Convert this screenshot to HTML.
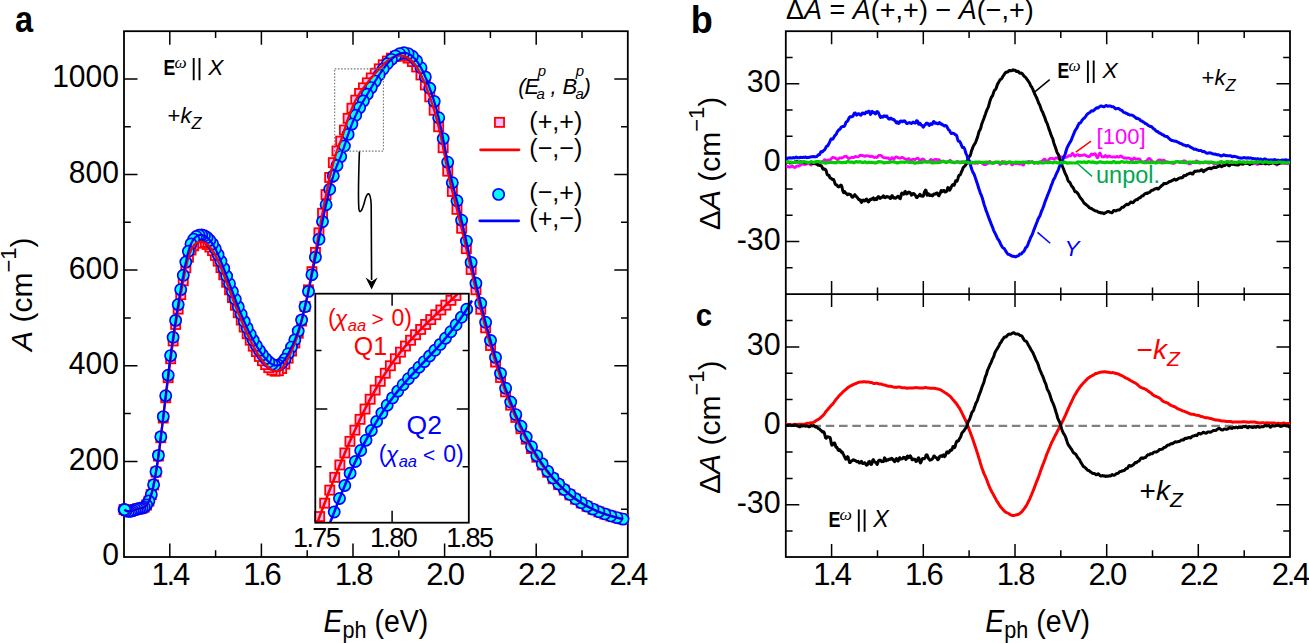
<!DOCTYPE html>
<html><head><meta charset="utf-8"><title>Figure</title>
<style>html,body{margin:0;padding:0;background:#fff;overflow:hidden}svg{display:block}</style>
</head><body>
<svg width="1309" height="643" viewBox="0 0 1309 643" font-family="Liberation Sans, sans-serif">
<rect width="1309" height="643" fill="#fff"/>
<rect x="124.0" y="31.2" width="503.8" height="525.8" fill="none" stroke="#000" stroke-width="1.8"/>
<path d="M169.8 557.0v-13.5 M169.8 31.2v13.5 M261.4 557.0v-13.5 M261.4 31.2v13.5 M353.0 557.0v-13.5 M353.0 31.2v13.5 M444.6 557.0v-13.5 M444.6 31.2v13.5 M536.2 557.0v-13.5 M536.2 31.2v13.5 M215.6 557.0v-6.8 M215.6 31.2v6.8 M307.2 557.0v-6.8 M307.2 31.2v6.8 M398.8 557.0v-6.8 M398.8 31.2v6.8 M490.4 557.0v-6.8 M490.4 31.2v6.8 M582.0 557.0v-6.8 M582.0 31.2v6.8 M124.0 461.4h13.5 M627.8 461.4h-13.5 M124.0 365.8h13.5 M627.8 365.8h-13.5 M124.0 270.1h13.5 M627.8 270.1h-13.5 M124.0 174.5h13.5 M627.8 174.5h-13.5 M124.0 78.9h13.5 M627.8 78.9h-13.5 M124.0 509.2h6.8 M627.8 509.2h-6.8 M124.0 413.6h6.8 M627.8 413.6h-6.8 M124.0 317.9h6.8 M627.8 317.9h-6.8 M124.0 222.3h6.8 M627.8 222.3h-6.8 M124.0 126.7h6.8 M627.8 126.7h-6.8" stroke="#000" stroke-width="1.5" fill="none"/>
<g>
<g fill="#ffbfff" stroke="#ff0000" stroke-width="1.8"><rect x="618.4" y="514.5" width="9.1" height="9.1"/><rect x="612.3" y="513.1" width="9.1" height="9.1"/><rect x="606.2" y="511.4" width="9.1" height="9.1"/><rect x="600.2" y="509.5" width="9.1" height="9.1"/><rect x="594.3" y="507.3" width="9.1" height="9.1"/><rect x="588.4" y="504.7" width="9.1" height="9.1"/><rect x="582.5" y="501.8" width="9.1" height="9.1"/><rect x="576.7" y="498.4" width="9.1" height="9.1"/><rect x="571.0" y="494.6" width="9.1" height="9.1"/><rect x="565.3" y="490.3" width="9.1" height="9.1"/><rect x="559.7" y="485.5" width="9.1" height="9.1"/><rect x="554.1" y="480.1" width="9.1" height="9.1"/><rect x="548.6" y="474.2" width="9.1" height="9.1"/><rect x="543.1" y="467.7" width="9.1" height="9.1"/><rect x="537.7" y="460.5" width="9.1" height="9.1"/><rect x="532.3" y="452.7" width="9.1" height="9.1"/><rect x="527.0" y="444.0" width="9.1" height="9.1"/><rect x="521.7" y="434.6" width="9.1" height="9.1"/><rect x="516.4" y="424.2" width="9.1" height="9.1"/><rect x="511.3" y="412.9" width="9.1" height="9.1"/><rect x="506.1" y="400.6" width="9.1" height="9.1"/><rect x="501.0" y="387.3" width="9.1" height="9.1"/><rect x="496.0" y="372.9" width="9.1" height="9.1"/><rect x="491.0" y="357.5" width="9.1" height="9.1"/><rect x="486.0" y="340.9" width="9.1" height="9.1"/><rect x="481.1" y="323.3" width="9.1" height="9.1"/><rect x="476.2" y="304.7" width="9.1" height="9.1"/><rect x="471.4" y="285.2" width="9.1" height="9.1"/><rect x="466.6" y="264.9" width="9.1" height="9.1"/><rect x="461.8" y="244.1" width="9.1" height="9.1"/><rect x="457.1" y="223.7" width="9.1" height="9.1"/><rect x="452.4" y="204.8" width="9.1" height="9.1"/><rect x="447.8" y="186.9" width="9.1" height="9.1"/><rect x="443.2" y="166.6" width="9.1" height="9.1"/><rect x="438.6" y="143.2" width="9.1" height="9.1"/><rect x="434.1" y="122.2" width="9.1" height="9.1"/><rect x="429.6" y="105.7" width="9.1" height="9.1"/><rect x="425.2" y="92.3" width="9.1" height="9.1"/><rect x="420.8" y="80.4" width="9.1" height="9.1"/><rect x="416.4" y="70.4" width="9.1" height="9.1"/><rect x="412.1" y="62.4" width="9.1" height="9.1"/><rect x="407.8" y="57.0" width="9.1" height="9.1"/><rect x="403.5" y="53.5" width="9.1" height="9.1"/><rect x="399.3" y="51.6" width="9.1" height="9.1"/><rect x="395.1" y="51.0" width="9.1" height="9.1"/><rect x="391.0" y="51.7" width="9.1" height="9.1"/><rect x="386.8" y="53.6" width="9.1" height="9.1"/><rect x="382.8" y="56.5" width="9.1" height="9.1"/><rect x="378.7" y="60.2" width="9.1" height="9.1"/><rect x="374.7" y="64.3" width="9.1" height="9.1"/><rect x="370.7" y="68.7" width="9.1" height="9.1"/><rect x="366.7" y="73.4" width="9.1" height="9.1"/><rect x="362.8" y="78.3" width="9.1" height="9.1"/><rect x="358.9" y="83.3" width="9.1" height="9.1"/><rect x="355.0" y="88.9" width="9.1" height="9.1"/><rect x="351.2" y="95.6" width="9.1" height="9.1"/><rect x="347.4" y="103.7" width="9.1" height="9.1"/><rect x="343.6" y="113.8" width="9.1" height="9.1"/><rect x="339.9" y="125.5" width="9.1" height="9.1"/><rect x="336.1" y="136.6" width="9.1" height="9.1"/><rect x="332.4" y="146.4" width="9.1" height="9.1"/><rect x="328.8" y="158.1" width="9.1" height="9.1"/><rect x="325.1" y="172.9" width="9.1" height="9.1"/><rect x="321.5" y="190.0" width="9.1" height="9.1"/><rect x="318.0" y="208.7" width="9.1" height="9.1"/><rect x="314.4" y="228.3" width="9.1" height="9.1"/><rect x="310.9" y="247.9" width="9.1" height="9.1"/><rect x="307.4" y="267.1" width="9.1" height="9.1"/><rect x="303.9" y="285.3" width="9.1" height="9.1"/><rect x="300.5" y="301.9" width="9.1" height="9.1"/><rect x="297.1" y="316.5" width="9.1" height="9.1"/><rect x="293.7" y="328.7" width="9.1" height="9.1"/><rect x="290.3" y="338.4" width="9.1" height="9.1"/><rect x="287.0" y="346.5" width="9.1" height="9.1"/><rect x="283.6" y="353.6" width="9.1" height="9.1"/><rect x="280.3" y="359.6" width="9.1" height="9.1"/><rect x="277.1" y="364.0" width="9.1" height="9.1"/><rect x="273.8" y="366.2" width="9.1" height="9.1"/><rect x="270.6" y="366.6" width="9.1" height="9.1"/><rect x="267.4" y="365.5" width="9.1" height="9.1"/><rect x="264.2" y="363.1" width="9.1" height="9.1"/><rect x="261.1" y="360.0" width="9.1" height="9.1"/><rect x="257.9" y="356.2" width="9.1" height="9.1"/><rect x="254.8" y="351.9" width="9.1" height="9.1"/><rect x="251.8" y="347.0" width="9.1" height="9.1"/><rect x="248.7" y="341.6" width="9.1" height="9.1"/><rect x="245.7" y="335.6" width="9.1" height="9.1"/><rect x="242.6" y="329.2" width="9.1" height="9.1"/><rect x="239.6" y="322.5" width="9.1" height="9.1"/><rect x="236.7" y="315.5" width="9.1" height="9.1"/><rect x="233.7" y="308.2" width="9.1" height="9.1"/><rect x="230.8" y="300.7" width="9.1" height="9.1"/><rect x="227.9" y="293.1" width="9.1" height="9.1"/><rect x="225.0" y="285.3" width="9.1" height="9.1"/><rect x="222.1" y="277.7" width="9.1" height="9.1"/><rect x="219.2" y="270.2" width="9.1" height="9.1"/><rect x="216.4" y="263.1" width="9.1" height="9.1"/><rect x="213.6" y="256.6" width="9.1" height="9.1"/><rect x="210.8" y="250.9" width="9.1" height="9.1"/><rect x="208.0" y="246.1" width="9.1" height="9.1"/><rect x="205.3" y="242.5" width="9.1" height="9.1"/><rect x="202.5" y="239.9" width="9.1" height="9.1"/><rect x="199.8" y="238.2" width="9.1" height="9.1"/><rect x="197.1" y="237.4" width="9.1" height="9.1"/><rect x="194.4" y="237.5" width="9.1" height="9.1"/><rect x="191.8" y="238.6" width="9.1" height="9.1"/><rect x="189.1" y="241.2" width="9.1" height="9.1"/><rect x="186.5" y="245.5" width="9.1" height="9.1"/><rect x="183.9" y="252.7" width="9.1" height="9.1"/><rect x="181.3" y="263.3" width="9.1" height="9.1"/><rect x="178.7" y="276.2" width="9.1" height="9.1"/><rect x="176.2" y="290.1" width="9.1" height="9.1"/><rect x="173.6" y="304.6" width="9.1" height="9.1"/><rect x="171.1" y="319.9" width="9.1" height="9.1"/><rect x="168.6" y="336.4" width="9.1" height="9.1"/><rect x="166.1" y="354.2" width="9.1" height="9.1"/><rect x="163.6" y="373.2" width="9.1" height="9.1"/><rect x="161.2" y="393.2" width="9.1" height="9.1"/><rect x="158.7" y="413.5" width="9.1" height="9.1"/><rect x="156.3" y="433.2" width="9.1" height="9.1"/><rect x="153.9" y="451.5" width="9.1" height="9.1"/><rect x="151.5" y="467.5" width="9.1" height="9.1"/><rect x="149.1" y="480.4" width="9.1" height="9.1"/><rect x="146.7" y="490.0" width="9.1" height="9.1"/><rect x="144.4" y="496.5" width="9.1" height="9.1"/><rect x="142.0" y="500.5" width="9.1" height="9.1"/><rect x="139.7" y="502.6" width="9.1" height="9.1"/><rect x="137.4" y="503.6" width="9.1" height="9.1"/><rect x="135.1" y="503.9" width="9.1" height="9.1"/><rect x="132.9" y="504.3" width="9.1" height="9.1"/><rect x="130.6" y="505.1" width="9.1" height="9.1"/><rect x="128.4" y="506.0" width="9.1" height="9.1"/><rect x="126.1" y="506.7" width="9.1" height="9.1"/><rect x="123.9" y="506.9" width="9.1" height="9.1"/><rect x="121.7" y="506.2" width="9.1" height="9.1"/><rect x="119.5" y="505.0" width="9.1" height="9.1"/><rect x="120.1" y="505.1" width="9.1" height="9.1"/></g>
<g fill="#00ffff" stroke="#0000ff" stroke-width="1.7"><circle cx="623.0" cy="519.1" r="5.6"/><circle cx="616.9" cy="517.6" r="5.6"/><circle cx="610.8" cy="515.9" r="5.6"/><circle cx="604.8" cy="513.9" r="5.6"/><circle cx="598.8" cy="511.7" r="5.6"/><circle cx="592.9" cy="509.1" r="5.6"/><circle cx="587.1" cy="506.1" r="5.6"/><circle cx="581.3" cy="502.7" r="5.6"/><circle cx="575.6" cy="498.8" r="5.6"/><circle cx="569.9" cy="494.4" r="5.6"/><circle cx="564.2" cy="489.5" r="5.6"/><circle cx="558.7" cy="484.0" r="5.6"/><circle cx="553.1" cy="477.9" r="5.6"/><circle cx="547.7" cy="471.2" r="5.6"/><circle cx="542.2" cy="463.8" r="5.6"/><circle cx="536.8" cy="455.7" r="5.6"/><circle cx="531.5" cy="446.7" r="5.6"/><circle cx="526.2" cy="437.0" r="5.6"/><circle cx="521.0" cy="426.3" r="5.6"/><circle cx="515.8" cy="414.6" r="5.6"/><circle cx="510.7" cy="402.0" r="5.6"/><circle cx="505.6" cy="388.2" r="5.6"/><circle cx="500.5" cy="373.4" r="5.6"/><circle cx="495.5" cy="357.4" r="5.6"/><circle cx="490.5" cy="340.4" r="5.6"/><circle cx="485.6" cy="322.3" r="5.6"/><circle cx="480.7" cy="303.3" r="5.6"/><circle cx="475.9" cy="283.3" r="5.6"/><circle cx="471.1" cy="262.4" r="5.6"/><circle cx="466.4" cy="241.1" r="5.6"/><circle cx="461.6" cy="220.2" r="5.6"/><circle cx="457.0" cy="200.8" r="5.6"/><circle cx="452.3" cy="182.7" r="5.6"/><circle cx="447.7" cy="162.2" r="5.6"/><circle cx="443.2" cy="138.6" r="5.6"/><circle cx="438.7" cy="117.7" r="5.6"/><circle cx="434.2" cy="101.4" r="5.6"/><circle cx="429.8" cy="88.3" r="5.6"/><circle cx="425.3" cy="76.9" r="5.6"/><circle cx="421.0" cy="67.7" r="5.6"/><circle cx="416.6" cy="60.8" r="5.6"/><circle cx="412.4" cy="56.2" r="5.6"/><circle cx="408.1" cy="53.6" r="5.6"/><circle cx="403.9" cy="52.8" r="5.6"/><circle cx="399.7" cy="53.7" r="5.6"/><circle cx="395.5" cy="55.9" r="5.6"/><circle cx="391.4" cy="59.4" r="5.6"/><circle cx="387.3" cy="63.8" r="5.6"/><circle cx="383.2" cy="69.0" r="5.6"/><circle cx="379.2" cy="74.9" r="5.6"/><circle cx="375.2" cy="81.1" r="5.6"/><circle cx="371.3" cy="87.6" r="5.6"/><circle cx="367.3" cy="94.2" r="5.6"/><circle cx="363.4" cy="100.9" r="5.6"/><circle cx="359.6" cy="107.7" r="5.6"/><circle cx="355.7" cy="115.3" r="5.6"/><circle cx="351.9" cy="124.1" r="5.6"/><circle cx="348.1" cy="134.4" r="5.6"/><circle cx="344.4" cy="146.0" r="5.6"/><circle cx="340.7" cy="156.6" r="5.6"/><circle cx="337.0" cy="165.5" r="5.6"/><circle cx="333.3" cy="175.9" r="5.6"/><circle cx="329.7" cy="189.3" r="5.6"/><circle cx="326.1" cy="204.7" r="5.6"/><circle cx="322.5" cy="221.6" r="5.6"/><circle cx="319.0" cy="239.3" r="5.6"/><circle cx="315.4" cy="257.2" r="5.6"/><circle cx="311.9" cy="274.7" r="5.6"/><circle cx="308.5" cy="291.4" r="5.6"/><circle cx="305.0" cy="306.6" r="5.6"/><circle cx="301.6" cy="320.0" r="5.6"/><circle cx="298.2" cy="331.1" r="5.6"/><circle cx="294.8" cy="339.9" r="5.6"/><circle cx="291.5" cy="347.1" r="5.6"/><circle cx="288.2" cy="353.7" r="5.6"/><circle cx="284.9" cy="359.3" r="5.6"/><circle cx="281.6" cy="363.3" r="5.6"/><circle cx="278.4" cy="365.3" r="5.6"/><circle cx="275.2" cy="365.5" r="5.6"/><circle cx="272.0" cy="364.2" r="5.6"/><circle cx="268.8" cy="361.8" r="5.6"/><circle cx="265.6" cy="358.6" r="5.6"/><circle cx="262.5" cy="354.8" r="5.6"/><circle cx="259.4" cy="350.4" r="5.6"/><circle cx="256.3" cy="345.5" r="5.6"/><circle cx="253.2" cy="340.1" r="5.6"/><circle cx="250.2" cy="334.2" r="5.6"/><circle cx="247.2" cy="327.9" r="5.6"/><circle cx="244.2" cy="321.3" r="5.6"/><circle cx="241.2" cy="314.2" r="5.6"/><circle cx="238.3" cy="306.8" r="5.6"/><circle cx="235.3" cy="299.2" r="5.6"/><circle cx="232.4" cy="291.5" r="5.6"/><circle cx="229.5" cy="283.7" r="5.6"/><circle cx="226.6" cy="276.0" r="5.6"/><circle cx="223.8" cy="268.4" r="5.6"/><circle cx="221.0" cy="261.3" r="5.6"/><circle cx="218.1" cy="254.6" r="5.6"/><circle cx="215.3" cy="248.8" r="5.6"/><circle cx="212.6" cy="243.9" r="5.6"/><circle cx="209.8" cy="240.2" r="5.6"/><circle cx="207.1" cy="237.5" r="5.6"/><circle cx="204.4" cy="235.8" r="5.6"/><circle cx="201.7" cy="235.0" r="5.6"/><circle cx="199.0" cy="235.2" r="5.6"/><circle cx="196.3" cy="236.5" r="5.6"/><circle cx="193.7" cy="239.3" r="5.6"/><circle cx="191.0" cy="243.9" r="5.6"/><circle cx="188.4" cy="251.3" r="5.6"/><circle cx="185.8" cy="262.1" r="5.6"/><circle cx="183.3" cy="275.3" r="5.6"/><circle cx="180.7" cy="289.6" r="5.6"/><circle cx="178.2" cy="304.6" r="5.6"/><circle cx="175.6" cy="320.4" r="5.6"/><circle cx="173.1" cy="337.3" r="5.6"/><circle cx="170.6" cy="355.6" r="5.6"/><circle cx="168.2" cy="375.2" r="5.6"/><circle cx="165.7" cy="395.7" r="5.6"/><circle cx="163.3" cy="416.6" r="5.6"/><circle cx="160.8" cy="436.8" r="5.6"/><circle cx="158.4" cy="455.4" r="5.6"/><circle cx="156.0" cy="471.7" r="5.6"/><circle cx="153.6" cy="484.8" r="5.6"/><circle cx="151.3" cy="494.5" r="5.6"/><circle cx="148.9" cy="501.0" r="5.6"/><circle cx="146.6" cy="505.0" r="5.6"/><circle cx="144.3" cy="507.2" r="5.6"/><circle cx="142.0" cy="508.1" r="5.6"/><circle cx="139.7" cy="508.4" r="5.6"/><circle cx="137.4" cy="508.9" r="5.6"/><circle cx="135.1" cy="509.6" r="5.6"/><circle cx="132.9" cy="510.5" r="5.6"/><circle cx="130.7" cy="511.2" r="5.6"/><circle cx="128.4" cy="511.4" r="5.6"/><circle cx="126.2" cy="510.8" r="5.6"/><circle cx="124.1" cy="509.5" r="5.6"/><circle cx="124.7" cy="509.7" r="5.6"/></g>
<polyline points="124.5,509.5 125.1,510.1 125.7,510.5 126.4,510.9 127.0,511.1 127.6,511.3 128.2,511.4 128.9,511.5 129.5,511.4 130.1,511.4 130.7,511.3 131.4,511.1 132.0,510.9 132.6,510.7 133.2,510.5 133.9,510.2 134.5,509.9 135.1,509.7 135.7,509.5 136.4,509.2 137.0,509.0 137.6,508.8 138.2,508.7 138.9,508.6 139.5,508.5 140.1,508.4 140.7,508.3 141.4,508.2 142.0,508.1 142.6,507.9 143.2,507.7 143.8,507.4 144.5,507.1 145.1,506.6 145.7,506.1 146.3,505.4 147.0,504.6 147.6,503.6 148.2,502.5 148.8,501.3 149.5,499.8 150.1,498.2 150.7,496.4 151.3,494.3 152.0,492.1 152.6,489.6 153.2,486.9 153.8,484.0 154.5,480.9 155.1,477.5 155.7,474.0 156.3,470.2 157.0,466.2 157.6,462.0 158.2,457.6 158.8,453.1 159.5,448.5 160.1,443.7 160.7,438.8 161.3,433.9 161.9,428.8 162.6,423.7 163.2,418.6 163.8,413.4 164.4,408.2 165.1,403.0 165.7,397.8 166.3,392.7 166.9,387.6 167.6,382.5 168.2,377.6 168.8,372.7 169.4,367.8 170.1,363.1 170.7,358.4 171.3,353.8 171.9,349.3 172.6,344.9 173.2,340.5 173.8,336.3 174.4,332.2 175.1,328.1 175.7,324.2 176.3,320.3 176.9,316.5 177.6,312.7 178.2,309.1 178.8,305.4 179.4,301.8 180.0,298.3 180.7,294.8 181.3,291.3 181.9,287.9 182.5,284.5 183.2,281.2 183.8,277.9 184.4,274.7 185.0,271.6 185.7,268.6 186.3,265.7 186.9,263.0 187.5,260.5 188.2,258.2 188.8,256.0 189.4,254.1 190.0,252.4 190.7,250.9 191.3,249.6 191.9,248.4 192.5,247.3 193.2,246.4 193.8,245.6 194.4,244.9 195.0,244.2 195.7,243.7 196.3,243.2 196.9,242.8 197.5,242.5 198.2,242.3 198.8,242.1 199.4,241.9 200.0,241.9 200.6,241.9 201.3,241.9 201.9,242.0 202.5,242.1 203.1,242.3 203.8,242.5 204.4,242.8 205.0,243.1 205.6,243.4 206.3,243.8 206.9,244.3 207.5,244.7 208.1,245.3 208.8,245.9 209.4,246.5 210.0,247.2 210.6,248.0 211.3,248.8 211.9,249.6 212.5,250.5 213.1,251.5 213.8,252.6 214.4,253.6 215.0,254.8 215.6,255.9 216.3,257.2 216.9,258.4 217.5,259.8 218.1,261.1 218.7,262.5 219.4,263.9 220.0,265.4 220.6,266.8 221.2,268.4 221.9,269.9 222.5,271.5 223.1,273.0 223.7,274.6 224.4,276.2 225.0,277.9 225.6,279.5 226.2,281.2 226.9,282.8 227.5,284.5 228.1,286.1 228.7,287.8 229.4,289.5 230.0,291.1 230.6,292.8 231.2,294.5 231.9,296.1 232.5,297.8 233.1,299.5 233.7,301.1 234.4,302.7 235.0,304.4 235.6,306.0 236.2,307.6 236.8,309.2 237.5,310.8 238.1,312.4 238.7,313.9 239.3,315.5 240.0,317.0 240.6,318.5 241.2,320.0 241.8,321.5 242.5,323.0 243.1,324.5 243.7,325.9 244.3,327.4 245.0,328.8 245.6,330.2 246.2,331.6 246.8,333.0 247.5,334.4 248.1,335.7 248.7,337.1 249.3,338.4 250.0,339.7 250.6,340.9 251.2,342.2 251.8,343.4 252.5,344.6 253.1,345.8 253.7,347.0 254.3,348.1 254.9,349.2 255.6,350.3 256.2,351.4 256.8,352.4 257.4,353.4 258.1,354.4 258.7,355.4 259.3,356.3 259.9,357.2 260.6,358.1 261.2,359.0 261.8,359.8 262.4,360.7 263.1,361.5 263.7,362.3 264.3,363.0 264.9,363.7 265.6,364.4 266.2,365.1 266.8,365.8 267.4,366.4 268.1,367.0 268.7,367.6 269.3,368.2 269.9,368.7 270.6,369.1 271.2,369.6 271.8,369.9 272.4,370.3 273.0,370.6 273.7,370.8 274.3,371.0 274.9,371.1 275.5,371.2 276.2,371.2 276.8,371.2 277.4,371.1 278.0,370.9 278.7,370.7 279.3,370.4 279.9,370.0 280.5,369.5 281.2,369.0 281.8,368.4 282.4,367.7 283.0,366.9 283.7,366.1 284.3,365.1 284.9,364.2 285.5,363.1 286.2,362.0 286.8,360.9 287.4,359.7 288.0,358.5 288.7,357.2 289.3,355.9 289.9,354.6 290.5,353.2 291.1,351.8 291.8,350.4 292.4,349.0 293.0,347.5 293.6,346.0 294.3,344.5 294.9,342.9 295.5,341.2 296.1,339.5 296.8,337.7 297.4,335.9 298.0,333.9 298.6,331.9 299.3,329.8 299.9,327.6 300.5,325.3 301.1,322.9 301.8,320.5 302.4,317.9 303.0,315.3 303.6,312.7 304.3,309.9 304.9,307.1 305.5,304.2 306.1,301.3 306.8,298.3 307.4,295.3 308.0,292.2 308.6,289.0 309.2,285.8 309.9,282.6 310.5,279.3 311.1,276.0 311.7,272.7 312.4,269.3 313.0,265.9 313.6,262.5 314.2,259.1 314.9,255.6 315.5,252.2 316.1,248.7 316.7,245.2 317.4,241.7 318.0,238.2 318.6,234.8 319.2,231.3 319.9,227.8 320.5,224.3 321.1,220.9 321.7,217.5 322.4,214.1 323.0,210.7 323.6,207.4 324.2,204.1 324.9,200.9 325.5,197.7 326.1,194.5 326.7,191.4 327.4,188.4 328.0,185.4 328.6,182.5 329.2,179.6 329.8,176.8 330.5,174.1 331.1,171.4 331.7,168.8 332.3,166.4 333.0,164.0 333.6,161.7 334.2,159.5 334.8,157.4 335.5,155.4 336.1,153.5 336.7,151.8 337.3,150.0 338.0,148.4 338.6,146.7 339.2,145.1 339.8,143.5 340.5,141.8 341.1,140.1 341.7,138.3 342.3,136.5 343.0,134.6 343.6,132.6 344.2,130.7 344.8,128.7 345.5,126.7 346.1,124.8 346.7,122.8 347.3,120.9 347.9,119.0 348.6,117.1 349.2,115.4 349.8,113.6 350.4,112.0 351.1,110.4 351.7,108.8 352.3,107.4 352.9,105.9 353.6,104.6 354.2,103.2 354.8,101.9 355.4,100.7 356.1,99.5 356.7,98.4 357.3,97.2 357.9,96.1 358.6,95.1 359.2,94.1 359.8,93.1 360.4,92.1 361.1,91.2 361.7,90.3 362.3,89.4 362.9,88.5 363.6,87.7 364.2,86.9 364.8,86.0 365.4,85.2 366.0,84.4 366.7,83.6 367.3,82.9 367.9,82.1 368.5,81.3 369.2,80.5 369.8,79.7 370.4,79.0 371.0,78.2 371.7,77.4 372.3,76.7 372.9,76.0 373.5,75.2 374.2,74.5 374.8,73.8 375.4,73.0 376.0,72.3 376.7,71.6 377.3,70.9 377.9,70.3 378.5,69.6 379.2,68.9 379.8,68.2 380.4,67.6 381.0,66.9 381.7,66.3 382.3,65.7 382.9,65.0 383.5,64.4 384.1,63.8 384.8,63.3 385.4,62.7 386.0,62.1 386.6,61.6 387.3,61.1 387.9,60.6 388.5,60.1 389.1,59.7 389.8,59.2 390.4,58.8 391.0,58.4 391.6,58.0 392.3,57.7 392.9,57.4 393.5,57.1 394.1,56.8 394.8,56.5 395.4,56.3 396.0,56.1 396.6,56.0 397.3,55.8 397.9,55.7 398.5,55.6 399.1,55.6 399.8,55.5 400.4,55.5 401.0,55.6 401.6,55.6 402.2,55.7 402.9,55.9 403.5,56.0 404.1,56.2 404.7,56.4 405.4,56.7 406.0,56.9 406.6,57.2 407.2,57.6 407.9,57.9 408.5,58.3 409.1,58.7 409.7,59.2 410.4,59.7 411.0,60.2 411.6,60.8 412.2,61.4 412.9,62.0 413.5,62.7 414.1,63.5 414.7,64.2 415.4,65.1 416.0,66.0 416.6,66.9 417.2,67.9 417.9,69.0 418.5,70.1 419.1,71.2 419.7,72.4 420.3,73.6 421.0,74.9 421.6,76.2 422.2,77.6 422.8,79.0 423.5,80.4 424.1,81.9 424.7,83.4 425.3,84.9 426.0,86.5 426.6,88.2 427.2,89.8 427.8,91.5 428.5,93.2 429.1,94.9 429.7,96.7 430.3,98.5 431.0,100.3 431.6,102.1 432.2,104.0 432.8,105.9 433.5,107.9 434.1,109.9 434.7,112.0 435.3,114.1 436.0,116.3 436.6,118.6 437.2,120.9 437.8,123.4 438.5,125.9 439.1,128.4 439.7,131.1 440.3,133.9 440.9,136.7 441.6,139.7 442.2,142.7 442.8,145.8 443.4,149.0 444.1,152.2 444.7,155.5 445.3,158.8 445.9,162.0 446.6,165.2 447.2,168.4 447.8,171.5 448.4,174.6 449.1,177.5 449.7,180.3 450.3,183.1 450.9,185.7 451.6,188.3 452.2,190.9 452.8,193.3 453.4,195.8 454.1,198.2 454.7,200.6 455.3,203.0 455.9,205.4 456.6,207.7 457.2,210.1 457.8,212.6 458.4,215.0 459.0,217.5 459.7,220.1 460.3,222.6 460.9,225.2 461.5,227.9 462.2,230.5 462.8,233.2 463.4,235.8 464.0,238.5 464.7,241.3 465.3,244.0 465.9,246.7 466.5,249.5 467.2,252.2 467.8,255.0 468.4,257.7 469.0,260.4 469.7,263.2 470.3,265.9 470.9,268.6 471.5,271.3 472.2,274.0 472.8,276.6 473.4,279.3 474.0,281.9 474.7,284.6 475.3,287.2 475.9,289.7 476.5,292.3 477.1,294.9 477.8,297.4 478.4,299.9 479.0,302.4 479.6,304.9 480.3,307.4 480.9,309.8 481.5,312.3 482.1,314.7 482.8,317.1 483.4,319.5 484.0,321.8 484.6,324.2 485.3,326.5 485.9,328.8 486.5,331.1 487.1,333.4 487.8,335.7 488.4,337.9 489.0,340.1 489.6,342.3 490.3,344.5 490.9,346.6 491.5,348.8 492.1,350.9 492.8,353.0 493.4,355.1 494.0,357.1 494.6,359.2 495.2,361.2 495.9,363.2 496.5,365.2 497.1,367.2 497.7,369.1 498.4,371.0 499.0,372.9 499.6,374.8 500.2,376.7 500.9,378.5 501.5,380.4 502.1,382.2 502.7,384.0 503.4,385.7 504.0,387.5 504.6,389.2 505.2,391.0 505.9,392.7 506.5,394.4 507.1,396.0 507.7,397.7 508.4,399.3 509.0,400.9 509.6,402.5 510.2,404.1 510.9,405.7 511.5,407.2 512.1,408.7 512.7,410.3 513.3,411.8 514.0,413.2 514.6,414.7 515.2,416.1 515.8,417.6 516.5,419.0 517.1,420.4 517.7,421.8 518.3,423.1 519.0,424.5 519.6,425.8 520.2,427.2 520.8,428.5 521.5,429.7 522.1,431.0 522.7,432.3 523.3,433.5 524.0,434.8 524.6,436.0 525.2,437.2 525.8,438.4 526.5,439.6 527.1,440.7 527.7,441.9 528.3,443.0 529.0,444.1 529.6,445.2 530.2,446.3 530.8,447.4 531.4,448.5 532.1,449.5 532.7,450.6 533.3,451.6 533.9,452.6 534.6,453.6 535.2,454.6 535.8,455.6 536.4,456.6 537.1,457.6 537.7,458.5 538.3,459.5 538.9,460.4 539.6,461.3 540.2,462.2 540.8,463.1 541.4,464.0 542.1,464.9 542.7,465.7 543.3,466.6 543.9,467.4 544.6,468.3 545.2,469.1 545.8,469.9 546.4,470.7 547.1,471.5 547.7,472.3 548.3,473.0 548.9,473.8 549.5,474.5 550.2,475.3 550.8,476.0 551.4,476.8 552.0,477.5 552.7,478.2 553.3,478.9 553.9,479.6 554.5,480.3 555.2,481.0 555.8,481.6 556.4,482.3 557.0,483.0 557.7,483.6 558.3,484.3 558.9,484.9 559.5,485.5 560.2,486.2 560.8,486.8 561.4,487.4 562.0,488.0 562.7,488.6 563.3,489.1 563.9,489.7 564.5,490.3 565.2,490.9 565.8,491.4 566.4,492.0 567.0,492.5 567.7,493.0 568.3,493.5 568.9,494.1 569.5,494.6 570.1,495.1 570.8,495.6 571.4,496.1 572.0,496.5 572.6,497.0 573.3,497.5 573.9,498.0 574.5,498.4 575.1,498.9 575.8,499.3 576.4,499.7 577.0,500.2 577.6,500.6 578.3,501.0 578.9,501.4 579.5,501.8 580.1,502.2 580.8,502.6 581.4,503.0 582.0,503.4 582.6,503.8 583.3,504.2 583.9,504.5 584.5,504.9 585.1,505.2 585.8,505.6 586.4,505.9 587.0,506.3 587.6,506.6 588.2,506.9 588.9,507.3 589.5,507.6 590.1,507.9 590.7,508.2 591.4,508.5 592.0,508.8 592.6,509.1 593.2,509.4 593.9,509.7 594.5,510.0 595.1,510.3 595.7,510.5 596.4,510.8 597.0,511.1 597.6,511.3 598.2,511.6 598.9,511.8 599.5,512.1 600.1,512.3 600.7,512.6 601.4,512.8 602.0,513.0 602.6,513.3 603.2,513.5 603.9,513.7 604.5,513.9 605.1,514.1 605.7,514.4 606.3,514.6 607.0,514.8 607.6,515.0 608.2,515.2 608.8,515.4 609.5,515.6 610.1,515.7 610.7,515.9 611.3,516.1 612.0,516.3 612.6,516.5 613.2,516.6 613.8,516.8 614.5,517.0 615.1,517.2 615.7,517.3 616.3,517.5 617.0,517.6 617.6,517.8 618.2,518.0 618.8,518.1 619.5,518.3 620.1,518.4 620.7,518.6 621.3,518.7 622.0,518.8 622.6,519.0 623.2,519.1" fill="none" stroke="#ff0000" stroke-width="2.4" stroke-linejoin="round"/>
<polyline points="124.5,509.5 125.1,510.1 125.7,510.5 126.4,510.8 127.0,511.1 127.6,511.3 128.2,511.4 128.9,511.4 129.5,511.4 130.1,511.3 130.7,511.2 131.4,511.1 132.0,510.9 132.6,510.7 133.2,510.4 133.9,510.2 134.5,509.9 135.1,509.7 135.7,509.4 136.4,509.2 137.0,509.0 137.6,508.8 138.2,508.7 138.9,508.5 139.5,508.5 140.1,508.4 140.7,508.3 141.4,508.2 142.0,508.1 142.6,507.9 143.2,507.7 143.8,507.4 144.5,507.0 145.1,506.6 145.7,506.0 146.3,505.4 147.0,504.5 147.6,503.6 148.2,502.5 148.8,501.2 149.5,499.8 150.1,498.2 150.7,496.3 151.3,494.3 152.0,492.0 152.6,489.5 153.2,486.8 153.8,483.9 154.5,480.7 155.1,477.3 155.7,473.7 156.3,469.8 157.0,465.7 157.6,461.5 158.2,457.0 158.8,452.4 159.5,447.7 160.1,442.8 160.7,437.8 161.3,432.8 161.9,427.6 162.6,422.4 163.2,417.1 163.8,411.8 164.4,406.5 165.1,401.1 165.7,395.8 166.3,390.5 166.9,385.3 167.6,380.1 168.2,375.0 168.8,369.9 169.4,364.9 170.1,360.1 170.7,355.3 171.3,350.5 171.9,345.9 172.6,341.4 173.2,336.9 173.8,332.6 174.4,328.3 175.1,324.2 175.7,320.1 176.3,316.1 176.9,312.2 177.6,308.3 178.2,304.5 178.8,300.8 179.4,297.1 180.0,293.4 180.7,289.8 181.3,286.2 181.9,282.7 182.5,279.2 183.2,275.8 183.8,272.4 184.4,269.1 185.0,266.0 185.7,262.9 186.3,259.9 186.9,257.2 187.5,254.6 188.2,252.2 188.8,250.0 189.4,248.1 190.0,246.3 190.7,244.7 191.3,243.3 191.9,242.1 192.5,241.0 193.2,240.0 193.8,239.1 194.4,238.3 195.0,237.6 195.7,237.0 196.3,236.5 196.9,236.1 197.5,235.7 198.2,235.4 198.8,235.2 199.4,235.1 200.0,235.0 200.6,234.9 201.3,235.0 201.9,235.0 202.5,235.1 203.1,235.3 203.8,235.5 204.4,235.8 205.0,236.1 205.6,236.4 206.3,236.8 206.9,237.3 207.5,237.8 208.1,238.4 208.8,239.0 209.4,239.7 210.0,240.4 210.6,241.2 211.3,242.0 211.9,242.9 212.5,243.8 213.1,244.8 213.8,245.9 214.4,247.0 215.0,248.1 215.6,249.3 216.3,250.6 216.9,251.9 217.5,253.2 218.1,254.6 218.7,256.0 219.4,257.5 220.0,258.9 220.6,260.4 221.2,262.0 221.9,263.5 222.5,265.1 223.1,266.7 223.7,268.3 224.4,269.9 225.0,271.6 225.6,273.2 226.2,274.9 226.9,276.6 227.5,278.2 228.1,279.9 228.7,281.6 229.4,283.3 230.0,285.0 230.6,286.6 231.2,288.3 231.9,290.0 232.5,291.7 233.1,293.3 233.7,295.0 234.4,296.6 235.0,298.3 235.6,299.9 236.2,301.6 236.8,303.2 237.5,304.8 238.1,306.4 238.7,308.0 239.3,309.6 240.0,311.1 240.6,312.7 241.2,314.2 241.8,315.7 242.5,317.2 243.1,318.7 243.7,320.2 244.3,321.6 245.0,323.0 245.6,324.4 246.2,325.8 246.8,327.2 247.5,328.5 248.1,329.9 248.7,331.2 249.3,332.5 250.0,333.7 250.6,335.0 251.2,336.2 251.8,337.4 252.5,338.6 253.1,339.8 253.7,340.9 254.3,342.0 254.9,343.1 255.6,344.2 256.2,345.3 256.8,346.3 257.4,347.3 258.1,348.3 258.7,349.3 259.3,350.3 259.9,351.2 260.6,352.1 261.2,353.0 261.8,353.8 262.4,354.7 263.1,355.5 263.7,356.3 264.3,357.1 264.9,357.8 265.6,358.5 266.2,359.2 266.8,359.9 267.4,360.5 268.1,361.2 268.7,361.8 269.3,362.3 269.9,362.8 270.6,363.3 271.2,363.7 271.8,364.1 272.4,364.5 273.0,364.8 273.7,365.1 274.3,365.3 274.9,365.4 275.5,365.5 276.2,365.6 276.8,365.6 277.4,365.5 278.0,365.4 278.7,365.2 279.3,364.9 279.9,364.6 280.5,364.2 281.2,363.7 281.8,363.1 282.4,362.5 283.0,361.8 283.7,361.0 284.3,360.1 284.9,359.2 285.5,358.3 286.2,357.3 286.8,356.2 287.4,355.1 288.0,354.0 288.7,352.8 289.3,351.6 289.9,350.4 290.5,349.1 291.1,347.8 291.8,346.6 292.4,345.3 293.0,343.9 293.6,342.6 294.3,341.2 294.9,339.7 295.5,338.2 296.1,336.7 296.8,335.1 297.4,333.4 298.0,331.7 298.6,329.8 299.3,327.9 299.9,325.9 300.5,323.8 301.1,321.7 301.8,319.4 302.4,317.1 303.0,314.8 303.6,312.3 304.3,309.8 304.9,307.2 305.5,304.6 306.1,301.9 306.8,299.2 307.4,296.4 308.0,293.5 308.6,290.7 309.2,287.7 309.9,284.8 310.5,281.8 311.1,278.8 311.7,275.7 312.4,272.6 313.0,269.5 313.6,266.4 314.2,263.2 314.9,260.1 315.5,256.9 316.1,253.8 316.7,250.6 317.4,247.4 318.0,244.2 318.6,241.1 319.2,237.9 319.9,234.8 320.5,231.6 321.1,228.5 321.7,225.4 322.4,222.4 323.0,219.3 323.6,216.3 324.2,213.3 324.9,210.4 325.5,207.5 326.1,204.7 326.7,201.9 327.4,199.1 328.0,196.4 328.6,193.8 329.2,191.2 329.8,188.6 330.5,186.2 331.1,183.8 331.7,181.5 332.3,179.2 333.0,177.1 333.6,175.0 334.2,173.0 334.8,171.2 335.5,169.4 336.1,167.7 336.7,166.2 337.3,164.6 338.0,163.2 338.6,161.7 339.2,160.2 339.8,158.7 340.5,157.2 341.1,155.6 341.7,153.9 342.3,152.2 343.0,150.4 343.6,148.5 344.2,146.6 344.8,144.7 345.5,142.8 346.1,140.8 346.7,138.9 347.3,136.9 347.9,135.0 348.6,133.2 349.2,131.4 349.8,129.6 350.4,127.9 351.1,126.3 351.7,124.7 352.3,123.1 352.9,121.6 353.6,120.1 354.2,118.7 354.8,117.3 355.4,116.0 356.1,114.6 356.7,113.3 357.3,112.1 357.9,110.8 358.6,109.6 359.2,108.5 359.8,107.3 360.4,106.1 361.1,105.0 361.7,103.9 362.3,102.8 362.9,101.7 363.6,100.7 364.2,99.6 364.8,98.5 365.4,97.5 366.0,96.4 366.7,95.4 367.3,94.3 367.9,93.3 368.5,92.2 369.2,91.2 369.8,90.1 370.4,89.1 371.0,88.0 371.7,87.0 372.3,85.9 372.9,84.9 373.5,83.9 374.2,82.8 374.8,81.8 375.4,80.8 376.0,79.8 376.7,78.8 377.3,77.9 377.9,76.9 378.5,75.9 379.2,75.0 379.8,74.0 380.4,73.1 381.0,72.2 381.7,71.3 382.3,70.4 382.9,69.5 383.5,68.7 384.1,67.8 384.8,67.0 385.4,66.2 386.0,65.4 386.6,64.6 387.3,63.9 387.9,63.1 388.5,62.4 389.1,61.7 389.8,61.0 390.4,60.4 391.0,59.8 391.6,59.1 392.3,58.6 392.9,58.0 393.5,57.5 394.1,57.0 394.8,56.5 395.4,56.0 396.0,55.6 396.6,55.2 397.3,54.8 397.9,54.5 398.5,54.2 399.1,53.9 399.8,53.6 400.4,53.4 401.0,53.2 401.6,53.1 402.2,53.0 402.9,52.9 403.5,52.8 404.1,52.8 404.7,52.8 405.4,52.9 406.0,53.0 406.6,53.1 407.2,53.3 407.9,53.5 408.5,53.7 409.1,54.0 409.7,54.4 410.4,54.7 411.0,55.1 411.6,55.6 412.2,56.1 412.9,56.6 413.5,57.2 414.1,57.8 414.7,58.5 415.4,59.2 416.0,60.0 416.6,60.8 417.2,61.6 417.9,62.5 418.5,63.5 419.1,64.5 419.7,65.5 420.3,66.6 421.0,67.7 421.6,68.9 422.2,70.1 422.8,71.3 423.5,72.7 424.1,74.0 424.7,75.4 425.3,76.9 426.0,78.4 426.6,80.0 427.2,81.6 427.8,83.2 428.5,84.8 429.1,86.5 429.7,88.2 430.3,89.9 431.0,91.6 431.6,93.4 432.2,95.3 432.8,97.1 433.5,99.1 434.1,101.0 434.7,103.1 435.3,105.2 436.0,107.3 436.6,109.6 437.2,111.9 437.8,114.3 438.5,116.8 439.1,119.3 439.7,122.0 440.3,124.7 440.9,127.5 441.6,130.5 442.2,133.5 442.8,136.7 443.4,139.9 444.1,143.1 444.7,146.4 445.3,149.7 445.9,152.9 446.6,156.2 447.2,159.4 447.8,162.5 448.4,165.6 449.1,168.5 449.7,171.4 450.3,174.2 450.9,176.9 451.6,179.5 452.2,182.0 452.8,184.6 453.4,187.0 454.1,189.5 454.7,191.9 455.3,194.3 455.9,196.8 456.6,199.2 457.2,201.6 457.8,204.1 458.4,206.6 459.0,209.2 459.7,211.8 460.3,214.4 460.9,217.1 461.5,219.8 462.2,222.5 462.8,225.2 463.4,227.9 464.0,230.7 464.7,233.5 465.3,236.3 465.9,239.1 466.5,241.9 467.2,244.7 467.8,247.5 468.4,250.3 469.0,253.2 469.7,256.0 470.3,258.8 470.9,261.5 471.5,264.3 472.2,267.1 472.8,269.8 473.4,272.5 474.0,275.2 474.7,277.9 475.3,280.6 475.9,283.2 476.5,285.9 477.1,288.5 477.8,291.1 478.4,293.7 479.0,296.3 479.6,298.8 480.3,301.4 480.9,303.9 481.5,306.4 482.1,308.9 482.8,311.3 483.4,313.8 484.0,316.2 484.6,318.6 485.3,321.0 485.9,323.4 486.5,325.7 487.1,328.0 487.8,330.4 488.4,332.7 489.0,334.9 489.6,337.2 490.3,339.4 490.9,341.6 491.5,343.8 492.1,346.0 492.8,348.2 493.4,350.3 494.0,352.4 494.6,354.5 495.2,356.6 495.9,358.7 496.5,360.7 497.1,362.7 497.7,364.7 498.4,366.7 499.0,368.7 499.6,370.6 500.2,372.5 500.9,374.4 501.5,376.3 502.1,378.2 502.7,380.0 503.4,381.9 504.0,383.7 504.6,385.5 505.2,387.3 505.9,389.0 506.5,390.8 507.1,392.5 507.7,394.2 508.4,395.9 509.0,397.5 509.6,399.2 510.2,400.8 510.9,402.4 511.5,404.0 512.1,405.6 512.7,407.2 513.3,408.7 514.0,410.2 514.6,411.8 515.2,413.2 515.8,414.7 516.5,416.2 517.1,417.6 517.7,419.1 518.3,420.5 519.0,421.9 519.6,423.2 520.2,424.6 520.8,426.0 521.5,427.3 522.1,428.6 522.7,429.9 523.3,431.2 524.0,432.5 524.6,433.7 525.2,435.0 525.8,436.2 526.5,437.4 527.1,438.6 527.7,439.8 528.3,441.0 529.0,442.1 529.6,443.3 530.2,444.4 530.8,445.5 531.4,446.6 532.1,447.7 532.7,448.8 533.3,449.9 533.9,450.9 534.6,452.0 535.2,453.0 535.8,454.0 536.4,455.0 537.1,456.0 537.7,457.0 538.3,458.0 538.9,458.9 539.6,459.9 540.2,460.8 540.8,461.7 541.4,462.6 542.1,463.5 542.7,464.4 543.3,465.3 543.9,466.2 544.6,467.0 545.2,467.9 545.8,468.7 546.4,469.6 547.1,470.4 547.7,471.2 548.3,472.0 548.9,472.8 549.5,473.6 550.2,474.3 550.8,475.1 551.4,475.9 552.0,476.6 552.7,477.4 553.3,478.1 553.9,478.8 554.5,479.5 555.2,480.2 555.8,480.9 556.4,481.6 557.0,482.3 557.7,482.9 558.3,483.6 558.9,484.3 559.5,484.9 560.2,485.5 560.8,486.2 561.4,486.8 562.0,487.4 562.7,488.0 563.3,488.6 563.9,489.2 564.5,489.8 565.2,490.3 565.8,490.9 566.4,491.5 567.0,492.0 567.7,492.6 568.3,493.1 568.9,493.6 569.5,494.1 570.1,494.7 570.8,495.2 571.4,495.7 572.0,496.2 572.6,496.6 573.3,497.1 573.9,497.6 574.5,498.1 575.1,498.5 575.8,499.0 576.4,499.4 577.0,499.9 577.6,500.3 578.3,500.7 578.9,501.1 579.5,501.6 580.1,502.0 580.8,502.4 581.4,502.8 582.0,503.2 582.6,503.5 583.3,503.9 583.9,504.3 584.5,504.7 585.1,505.0 585.8,505.4 586.4,505.7 587.0,506.1 587.6,506.4 588.2,506.8 588.9,507.1 589.5,507.4 590.1,507.7 590.7,508.1 591.4,508.4 592.0,508.7 592.6,509.0 593.2,509.3 593.9,509.6 594.5,509.8 595.1,510.1 595.7,510.4 596.4,510.7 597.0,510.9 597.6,511.2 598.2,511.5 598.9,511.7 599.5,512.0 600.1,512.2 600.7,512.5 601.4,512.7 602.0,512.9 602.6,513.2 603.2,513.4 603.9,513.6 604.5,513.8 605.1,514.1 605.7,514.3 606.3,514.5 607.0,514.7 607.6,514.9 608.2,515.1 608.8,515.3 609.5,515.5 610.1,515.7 610.7,515.9 611.3,516.1 612.0,516.2 612.6,516.4 613.2,516.6 613.8,516.8 614.5,516.9 615.1,517.1 615.7,517.3 616.3,517.4 617.0,517.6 617.6,517.8 618.2,517.9 618.8,518.1 619.5,518.2 620.1,518.4 620.7,518.5 621.3,518.7 622.0,518.8 622.6,519.0 623.2,519.1" fill="none" stroke="#0000ff" stroke-width="2.2" stroke-linejoin="round"/>
</g>
<rect x="334.7" y="68.9" width="48.7" height="82.2" fill="none" stroke="#777" stroke-width="1.1" stroke-dasharray="1.6,1.6"/>
<path d="M359.4 151.5 C358.6 175 358.2 200 358.9 209 C359.6 214 362 212 365 200 C367 192 370.5 190 371.2 205 L371.6 280" fill="none" stroke="#000" stroke-width="1.6"/>
<path d="M365.6 277.5 L371.6 289.6 L377.6 277.5 L371.6 281.5 Z" fill="#000"/>
<rect x="315.3" y="293.7" width="153.5" height="229.0" fill="#fff" stroke="none"/>
<defs><clipPath id="ic"><rect x="309.3" y="293.7" width="165.5" height="229.0"/></clipPath></defs>
<g clip-path="url(#ic)">
<g fill="#ffbfff" stroke="#ff0000" stroke-width="1.8"><rect x="315.1" y="512.0" width="9.1" height="9.1"/><rect x="320.1" y="498.6" width="9.1" height="9.1"/><rect x="325.2" y="485.6" width="9.1" height="9.1"/><rect x="330.2" y="472.8" width="9.1" height="9.1"/><rect x="335.3" y="460.4" width="9.1" height="9.1"/><rect x="340.3" y="448.4" width="9.1" height="9.1"/><rect x="345.4" y="436.8" width="9.1" height="9.1"/><rect x="350.4" y="425.6" width="9.1" height="9.1"/><rect x="355.5" y="414.8" width="9.1" height="9.1"/><rect x="360.5" y="404.5" width="9.1" height="9.1"/><rect x="365.6" y="394.7" width="9.1" height="9.1"/><rect x="370.6" y="385.5" width="9.1" height="9.1"/><rect x="375.7" y="376.8" width="9.1" height="9.1"/><rect x="380.7" y="368.7" width="9.1" height="9.1"/><rect x="385.8" y="361.2" width="9.1" height="9.1"/><rect x="390.8" y="354.2" width="9.1" height="9.1"/><rect x="395.9" y="347.6" width="9.1" height="9.1"/><rect x="400.9" y="341.5" width="9.1" height="9.1"/><rect x="406.0" y="335.7" width="9.1" height="9.1"/><rect x="411.0" y="330.2" width="9.1" height="9.1"/><rect x="416.1" y="324.9" width="9.1" height="9.1"/><rect x="421.1" y="319.9" width="9.1" height="9.1"/><rect x="426.2" y="315.0" width="9.1" height="9.1"/><rect x="431.2" y="310.2" width="9.1" height="9.1"/><rect x="436.3" y="305.4" width="9.1" height="9.1"/><rect x="441.3" y="300.6" width="9.1" height="9.1"/><rect x="446.4" y="295.8" width="9.1" height="9.1"/><rect x="451.4" y="290.9" width="9.1" height="9.1"/></g>
<g fill="#00ffff" stroke="#0000ff" stroke-width="1.7"><circle cx="334.2" cy="512.0" r="5.6"/><circle cx="339.5" cy="498.5" r="5.6"/><circle cx="344.8" cy="485.5" r="5.6"/><circle cx="350.1" cy="473.2" r="5.6"/><circle cx="355.4" cy="461.5" r="5.6"/><circle cx="360.7" cy="450.5" r="5.6"/><circle cx="366.0" cy="440.2" r="5.6"/><circle cx="371.3" cy="430.5" r="5.6"/><circle cx="376.6" cy="421.5" r="5.6"/><circle cx="381.9" cy="413.1" r="5.6"/><circle cx="387.2" cy="405.2" r="5.6"/><circle cx="392.5" cy="397.9" r="5.6"/><circle cx="397.8" cy="391.1" r="5.6"/><circle cx="403.1" cy="384.7" r="5.6"/><circle cx="408.4" cy="378.7" r="5.6"/><circle cx="413.7" cy="372.9" r="5.6"/><circle cx="419.0" cy="367.2" r="5.6"/><circle cx="424.3" cy="361.6" r="5.6"/><circle cx="429.6" cy="356.0" r="5.6"/><circle cx="434.9" cy="350.3" r="5.6"/><circle cx="440.2" cy="344.4" r="5.6"/><circle cx="445.5" cy="338.2" r="5.6"/><circle cx="450.8" cy="331.7" r="5.6"/><circle cx="456.1" cy="324.8" r="5.6"/><circle cx="461.4" cy="317.3" r="5.6"/><circle cx="466.7" cy="309.2" r="5.6"/></g>
<polyline points="312.0,537.0 312.4,535.9 312.8,534.8 313.2,533.8 313.6,532.7 314.0,531.6 314.4,530.5 314.8,529.4 315.2,528.3 315.6,527.2 316.0,526.1 316.4,525.1 316.8,524.0 317.2,522.9 317.6,521.8 318.0,520.7 318.4,519.7 318.8,518.6 319.2,517.5 319.6,516.5 320.0,515.4 320.4,514.3 320.8,513.3 321.2,512.2 321.6,511.1 322.0,510.1 322.4,509.0 322.8,508.0 323.2,506.9 323.6,505.8 324.0,504.8 324.4,503.7 324.8,502.7 325.2,501.7 325.6,500.6 326.0,499.6 326.4,498.5 326.8,497.5 327.2,496.4 327.6,495.4 328.0,494.4 328.4,493.3 328.8,492.3 329.2,491.3 329.6,490.3 330.0,489.2 330.4,488.2 330.8,487.2 331.2,486.2 331.6,485.2 332.1,484.2 332.5,483.1 332.9,482.1 333.3,481.1 333.7,480.1 334.1,479.1 334.5,478.1 334.9,477.1 335.3,476.1 335.7,475.1 336.1,474.1 336.5,473.1 336.9,472.2 337.3,471.2 337.7,470.2 338.1,469.2 338.5,468.2 338.9,467.3 339.3,466.3 339.7,465.3 340.1,464.3 340.5,463.4 340.9,462.4 341.3,461.4 341.7,460.5 342.1,459.5 342.5,458.6 342.9,457.6 343.3,456.7 343.7,455.7 344.1,454.8 344.5,453.8 344.9,452.9 345.3,451.9 345.7,451.0 346.1,450.1 346.5,449.1 346.9,448.2 347.3,447.3 347.7,446.4 348.1,445.4 348.5,444.5 348.9,443.6 349.3,442.7 349.7,441.8 350.1,440.9 350.5,440.0 350.9,439.1 351.3,438.2 351.7,437.3 352.1,436.4 352.5,435.5 352.9,434.6 353.3,433.7 353.7,432.8 354.1,432.0 354.5,431.1 354.9,430.2 355.3,429.3 355.7,428.5 356.1,427.6 356.5,426.7 356.9,425.9 357.3,425.0 357.7,424.2 358.1,423.3 358.5,422.5 358.9,421.6 359.3,420.8 359.7,419.9 360.1,419.1 360.5,418.3 360.9,417.4 361.3,416.6 361.7,415.8 362.1,415.0 362.5,414.1 362.9,413.3 363.3,412.5 363.7,411.7 364.1,410.9 364.5,410.1 364.9,409.3 365.3,408.5 365.7,407.7 366.1,406.9 366.5,406.1 366.9,405.4 367.3,404.6 367.7,403.8 368.1,403.0 368.5,402.3 368.9,401.5 369.3,400.7 369.7,400.0 370.1,399.2 370.5,398.5 370.9,397.7 371.3,397.0 371.7,396.2 372.2,395.5 372.6,394.7 373.0,394.0 373.4,393.3 373.8,392.6 374.2,391.8 374.6,391.1 375.0,390.4 375.4,389.7 375.8,389.0 376.2,388.3 376.6,387.6 377.0,386.9 377.4,386.2 377.8,385.5 378.2,384.8 378.6,384.1 379.0,383.4 379.4,382.8 379.8,382.1 380.2,381.4 380.6,380.8 381.0,380.1 381.4,379.4 381.8,378.8 382.2,378.1 382.6,377.5 383.0,376.9 383.4,376.2 383.8,375.6 384.2,375.0 384.6,374.3 385.0,373.7 385.4,373.1 385.8,372.5 386.2,371.9 386.6,371.2 387.0,370.6 387.4,370.0 387.8,369.4 388.2,368.8 388.6,368.3 389.0,367.7 389.4,367.1 389.8,366.5 390.2,365.9 390.6,365.3 391.0,364.8 391.4,364.2 391.8,363.6 392.2,363.1 392.6,362.5 393.0,361.9 393.4,361.4 393.8,360.8 394.2,360.3 394.6,359.7 395.0,359.2 395.4,358.7 395.8,358.1 396.2,357.6 396.6,357.1 397.0,356.5 397.4,356.0 397.8,355.5 398.2,355.0 398.6,354.4 399.0,353.9 399.4,353.4 399.8,352.9 400.2,352.4 400.6,351.9 401.0,351.4 401.4,350.9 401.8,350.4 402.2,349.9 402.6,349.4 403.0,348.9 403.4,348.4 403.8,348.0 404.2,347.5 404.6,347.0 405.0,346.5 405.4,346.0 405.8,345.6 406.2,345.1 406.6,344.6 407.0,344.2 407.4,343.7 407.8,343.2 408.2,342.8 408.6,342.3 409.0,341.9 409.4,341.4 409.8,341.0 410.2,340.5 410.6,340.1 411.0,339.6 411.4,339.2 411.8,338.7 412.3,338.3 412.7,337.8 413.1,337.4 413.5,337.0 413.9,336.5 414.3,336.1 414.7,335.7 415.1,335.2 415.5,334.8 415.9,334.4 416.3,334.0 416.7,333.5 417.1,333.1 417.5,332.7 417.9,332.3 418.3,331.9 418.7,331.5 419.1,331.0 419.5,330.6 419.9,330.2 420.3,329.8 420.7,329.4 421.1,329.0 421.5,328.6 421.9,328.2 422.3,327.8 422.7,327.4 423.1,327.0 423.5,326.6 423.9,326.2 424.3,325.8 424.7,325.4 425.1,325.0 425.5,324.6 425.9,324.2 426.3,323.8 426.7,323.4 427.1,323.0 427.5,322.6 427.9,322.2 428.3,321.8 428.7,321.4 429.1,321.1 429.5,320.7 429.9,320.3 430.3,319.9 430.7,319.5 431.1,319.1 431.5,318.7 431.9,318.4 432.3,318.0 432.7,317.6 433.1,317.2 433.5,316.8 433.9,316.5 434.3,316.1 434.7,315.7 435.1,315.3 435.5,314.9 435.9,314.6 436.3,314.2 436.7,313.8 437.1,313.4 437.5,313.0 437.9,312.7 438.3,312.3 438.7,311.9 439.1,311.5 439.5,311.2 439.9,310.8 440.3,310.4 440.7,310.0 441.1,309.6 441.5,309.3 441.9,308.9 442.3,308.5 442.7,308.1 443.1,307.8 443.5,307.4 443.9,307.0 444.3,306.6 444.7,306.2 445.1,305.9 445.5,305.5 445.9,305.1 446.3,304.7 446.7,304.3 447.1,304.0 447.5,303.6 447.9,303.2 448.3,302.8 448.7,302.4 449.1,302.0 449.5,301.7 449.9,301.3 450.3,300.9 450.7,300.5 451.1,300.1 451.5,299.7 451.9,299.3 452.4,299.0 452.8,298.6 453.2,298.2 453.6,297.8 454.0,297.4 454.4,297.0 454.8,296.6 455.2,296.2 455.6,295.8 456.0,295.4 456.4,295.0 456.8,294.6 457.2,294.2 457.6,293.8 458.0,293.4 458.4,293.0 458.8,292.6 459.2,292.2 459.6,291.8 460.0,291.4 460.4,291.0 460.8,290.6 461.2,290.2 461.6,289.7 462.0,289.3 462.4,288.9 462.8,288.5 463.2,288.1 463.6,287.7 464.0,287.2 464.4,286.8 464.8,286.4 465.2,286.0 465.6,285.5 466.0,285.1 466.4,284.7 466.8,284.2 467.2,283.8 467.6,283.4 468.0,282.9 468.4,282.5 468.8,282.0 469.2,281.6 469.6,281.2 470.0,280.7 470.4,280.3 470.8,279.8 471.2,279.4 471.6,278.9 472.0,278.4" fill="none" stroke="#ff0000" stroke-width="2.6"/>
<polyline points="312.0,574.4 312.4,573.2 312.8,572.0 313.2,570.8 313.6,569.6 314.0,568.4 314.4,567.2 314.8,566.1 315.2,564.9 315.6,563.7 316.0,562.5 316.4,561.3 316.8,560.2 317.2,559.0 317.6,557.8 318.0,556.6 318.4,555.5 318.8,554.3 319.2,553.2 319.6,552.0 320.0,550.9 320.4,549.7 320.8,548.6 321.2,547.4 321.6,546.3 322.0,545.1 322.4,544.0 322.8,542.9 323.2,541.7 323.6,540.6 324.0,539.5 324.4,538.4 324.8,537.2 325.2,536.1 325.6,535.0 326.0,533.9 326.4,532.8 326.8,531.7 327.2,530.6 327.6,529.5 328.0,528.4 328.4,527.3 328.8,526.2 329.2,525.1 329.6,524.1 330.0,523.0 330.4,521.9 330.8,520.8 331.2,519.8 331.6,518.7 332.1,517.6 332.5,516.6 332.9,515.5 333.3,514.5 333.7,513.4 334.1,512.4 334.5,511.3 334.9,510.3 335.3,509.2 335.7,508.2 336.1,507.2 336.5,506.1 336.9,505.1 337.3,504.1 337.7,503.1 338.1,502.1 338.5,501.1 338.9,500.0 339.3,499.0 339.7,498.0 340.1,497.0 340.5,496.0 340.9,495.1 341.3,494.1 341.7,493.1 342.1,492.1 342.5,491.1 342.9,490.1 343.3,489.2 343.7,488.2 344.1,487.2 344.5,486.3 344.9,485.3 345.3,484.4 345.7,483.4 346.1,482.5 346.5,481.5 346.9,480.6 347.3,479.7 347.7,478.7 348.1,477.8 348.5,476.9 348.9,476.0 349.3,475.0 349.7,474.1 350.1,473.2 350.5,472.3 350.9,471.4 351.3,470.5 351.7,469.6 352.1,468.7 352.5,467.8 352.9,466.9 353.3,466.1 353.7,465.2 354.1,464.3 354.5,463.4 354.9,462.6 355.3,461.7 355.7,460.9 356.1,460.0 356.5,459.2 356.9,458.3 357.3,457.5 357.7,456.6 358.1,455.8 358.5,455.0 358.9,454.1 359.3,453.3 359.7,452.5 360.1,451.7 360.5,450.9 360.9,450.1 361.3,449.2 361.7,448.5 362.1,447.7 362.5,446.9 362.9,446.1 363.3,445.3 363.7,444.5 364.1,443.7 364.5,443.0 364.9,442.2 365.3,441.4 365.7,440.7 366.1,439.9 366.5,439.2 366.9,438.4 367.3,437.7 367.7,436.9 368.1,436.2 368.5,435.5 368.9,434.7 369.3,434.0 369.7,433.3 370.1,432.6 370.5,431.8 370.9,431.1 371.3,430.4 371.7,429.7 372.2,429.0 372.6,428.3 373.0,427.6 373.4,426.9 373.8,426.2 374.2,425.6 374.6,424.9 375.0,424.2 375.4,423.5 375.8,422.9 376.2,422.2 376.6,421.5 377.0,420.9 377.4,420.2 377.8,419.6 378.2,418.9 378.6,418.3 379.0,417.6 379.4,417.0 379.8,416.4 380.2,415.7 380.6,415.1 381.0,414.5 381.4,413.9 381.8,413.3 382.2,412.6 382.6,412.0 383.0,411.4 383.4,410.8 383.8,410.2 384.2,409.6 384.6,409.0 385.0,408.4 385.4,407.8 385.8,407.3 386.2,406.7 386.6,406.1 387.0,405.5 387.4,405.0 387.8,404.4 388.2,403.8 388.6,403.3 389.0,402.7 389.4,402.1 389.8,401.6 390.2,401.0 390.6,400.5 391.0,399.9 391.4,399.4 391.8,398.9 392.2,398.3 392.6,397.8 393.0,397.3 393.4,396.7 393.8,396.2 394.2,395.7 394.6,395.2 395.0,394.7 395.4,394.1 395.8,393.6 396.2,393.1 396.6,392.6 397.0,392.1 397.4,391.6 397.8,391.1 398.2,390.6 398.6,390.1 399.0,389.6 399.4,389.1 399.8,388.7 400.2,388.2 400.6,387.7 401.0,387.2 401.4,386.7 401.8,386.3 402.2,385.8 402.6,385.3 403.0,384.8 403.4,384.4 403.8,383.9 404.2,383.4 404.6,383.0 405.0,382.5 405.4,382.0 405.8,381.6 406.2,381.1 406.6,380.7 407.0,380.2 407.4,379.8 407.8,379.3 408.2,378.9 408.6,378.4 409.0,378.0 409.4,377.5 409.8,377.1 410.2,376.6 410.6,376.2 411.0,375.8 411.4,375.3 411.8,374.9 412.3,374.4 412.7,374.0 413.1,373.6 413.5,373.1 413.9,372.7 414.3,372.3 414.7,371.8 415.1,371.4 415.5,371.0 415.9,370.5 416.3,370.1 416.7,369.7 417.1,369.3 417.5,368.8 417.9,368.4 418.3,368.0 418.7,367.6 419.1,367.1 419.5,366.7 419.9,366.3 420.3,365.9 420.7,365.4 421.1,365.0 421.5,364.6 421.9,364.2 422.3,363.7 422.7,363.3 423.1,362.9 423.5,362.5 423.9,362.0 424.3,361.6 424.7,361.2 425.1,360.8 425.5,360.4 425.9,359.9 426.3,359.5 426.7,359.1 427.1,358.7 427.5,358.2 427.9,357.8 428.3,357.4 428.7,357.0 429.1,356.5 429.5,356.1 429.9,355.7 430.3,355.3 430.7,354.8 431.1,354.4 431.5,354.0 431.9,353.5 432.3,353.1 432.7,352.7 433.1,352.2 433.5,351.8 433.9,351.4 434.3,350.9 434.7,350.5 435.1,350.1 435.5,349.6 435.9,349.2 436.3,348.7 436.7,348.3 437.1,347.9 437.5,347.4 437.9,347.0 438.3,346.5 438.7,346.1 439.1,345.6 439.5,345.2 439.9,344.7 440.3,344.3 440.7,343.8 441.1,343.3 441.5,342.9 441.9,342.4 442.3,342.0 442.7,341.5 443.1,341.0 443.5,340.6 443.9,340.1 444.3,339.6 444.7,339.2 445.1,338.7 445.5,338.2 445.9,337.7 446.3,337.2 446.7,336.8 447.1,336.3 447.5,335.8 447.9,335.3 448.3,334.8 448.7,334.3 449.1,333.8 449.5,333.3 449.9,332.8 450.3,332.3 450.7,331.8 451.1,331.3 451.5,330.8 451.9,330.3 452.4,329.7 452.8,329.2 453.2,328.7 453.6,328.2 454.0,327.6 454.4,327.1 454.8,326.6 455.2,326.0 455.6,325.5 456.0,325.0 456.4,324.4 456.8,323.9 457.2,323.3 457.6,322.8 458.0,322.2 458.4,321.7 458.8,321.1 459.2,320.5 459.6,319.9 460.0,319.4 460.4,318.8 460.8,318.2 461.2,317.6 461.6,317.0 462.0,316.5 462.4,315.9 462.8,315.3 463.2,314.7 463.6,314.1 464.0,313.5 464.4,312.8 464.8,312.2 465.2,311.6 465.6,311.0 466.0,310.4 466.4,309.7 466.8,309.1 467.2,308.4 467.6,307.8 468.0,307.2 468.4,306.5 468.8,305.9 469.2,305.2 469.6,304.5 470.0,303.9 470.4,303.2 470.8,302.5 471.2,301.8 471.6,301.1 472.0,300.5" fill="none" stroke="#0000ff" stroke-width="2.6"/>
</g>
<rect x="315.3" y="293.7" width="153.5" height="229.0" fill="none" stroke="#000" stroke-width="1.8"/>
<path d="M392.1 522.7v-12 M392.1 293.7v12 M315.3 408.9h12 M468.8 408.9h-12 M315.3 466.8h6.2 M468.8 466.8h-6.2 M315.3 350.6h6.2 M468.8 350.6h-6.2" stroke="#000" stroke-width="1.5" fill="none"/>
<rect x="785.8" y="31.2" width="504.2" height="525.8" fill="none" stroke="#000" stroke-width="1.8"/>
<path d="M785.8 294.1H1290.0" stroke="#000" stroke-width="1.6"/>
<path d="M831.6 31.2v13 M831.6 281.1v26.0 M831.6 557v-13 M877.5 31.2v6.7 M877.5 287.4v13.4 M877.5 557v-6.7 M923.3 31.2v13 M923.3 281.1v26.0 M923.3 557v-13 M969.1 31.2v6.7 M969.1 287.4v13.4 M969.1 557v-6.7 M1015.0 31.2v13 M1015.0 281.1v26.0 M1015.0 557v-13 M1060.8 31.2v6.7 M1060.8 287.4v13.4 M1060.8 557v-6.7 M1106.7 31.2v13 M1106.7 281.1v26.0 M1106.7 557v-13 M1152.5 31.2v6.7 M1152.5 287.4v13.4 M1152.5 557v-6.7 M1198.3 31.2v13 M1198.3 281.1v26.0 M1198.3 557v-13 M1244.2 31.2v6.7 M1244.2 287.4v13.4 M1244.2 557v-6.7 M785.8 267.7h6.8 M1290.0 267.7h-6.8 M785.8 531.0h6.8 M1290.0 531.0h-6.8 M785.8 241.4h13.5 M1290.0 241.4h-13.5 M785.8 504.7h13.5 M1290.0 504.7h-13.5 M785.8 215.2h6.8 M1290.0 215.2h-6.8 M785.8 478.4h6.8 M1290.0 478.4h-6.8 M785.8 188.9h6.8 M1290.0 188.9h-6.8 M785.8 452.1h6.8 M1290.0 452.1h-6.8 M785.8 162.6h13.5 M1290.0 162.6h-13.5 M785.8 425.8h13.5 M1290.0 425.8h-13.5 M785.8 136.3h6.8 M1290.0 136.3h-6.8 M785.8 399.5h6.8 M1290.0 399.5h-6.8 M785.8 110.0h6.8 M1290.0 110.0h-6.8 M785.8 373.2h6.8 M1290.0 373.2h-6.8 M785.8 83.8h13.5 M1290.0 83.8h-13.5 M785.8 346.9h13.5 M1290.0 346.9h-13.5 M785.8 57.5h6.8 M1290.0 57.5h-6.8 M785.8 320.6h6.8 M1290.0 320.6h-6.8" stroke="#000" stroke-width="1.5" fill="none"/>
<defs><clipPath id="bc"><rect x="785.8" y="31" width="504.2" height="263"/></clipPath><clipPath id="cc"><rect x="785.8" y="294" width="504.2" height="263"/></clipPath></defs>
<g clip-path="url(#bc)" fill="none" stroke-linejoin="round">
<polyline points="785.8,166.9 786.4,166.6 786.9,166.4 787.5,166.5 788.0,166.6 788.6,166.8 789.2,167.0 789.7,167.1 790.3,167.0 790.8,166.7 791.4,166.5 792.0,166.3 792.5,166.3 793.1,166.6 793.7,167.1 794.2,167.4 794.8,167.5 795.3,167.4 795.9,166.8 796.5,166.2 797.0,165.8 797.6,166.0 798.1,166.2 798.7,166.2 799.3,165.7 799.8,165.3 800.4,165.1 800.9,164.9 801.5,164.6 802.1,164.2 802.6,163.9 803.2,164.0 803.7,164.3 804.3,164.5 804.9,164.5 805.4,164.4 806.0,164.2 806.6,163.9 807.1,163.2 807.7,162.8 808.2,162.8 808.8,163.1 809.4,163.5 809.9,164.2 810.5,164.8 811.0,165.0 811.6,164.6 812.2,163.9 812.7,163.4 813.3,163.5 813.8,163.8 814.4,163.9 815.0,163.9 815.5,163.9 816.1,163.8 816.6,163.5 817.2,163.1 817.8,162.7 818.3,162.5 818.9,162.4 819.5,162.4 820.0,162.4 820.6,162.3 821.1,162.2 821.7,161.8 822.3,161.6 822.8,161.5 823.4,161.1 823.9,160.4 824.5,159.7 825.1,159.7 825.6,160.3 826.2,160.9 826.7,160.9 827.3,160.4 827.9,160.0 828.4,160.1 829.0,160.3 829.5,160.3 830.1,159.8 830.7,159.3 831.2,158.7 831.8,158.1 832.4,157.6 832.9,157.3 833.5,157.3 834.0,157.7 834.6,158.0 835.2,158.0 835.7,158.2 836.3,158.7 836.8,159.3 837.4,159.5 838.0,159.2 838.5,158.8 839.1,158.3 839.6,157.9 840.2,157.8 840.8,157.8 841.3,158.0 841.9,158.1 842.4,157.8 843.0,157.5 843.6,157.1 844.1,156.8 844.7,156.5 845.2,156.3 845.8,156.3 846.4,156.4 846.9,156.8 847.5,157.5 848.1,158.3 848.6,158.5 849.2,158.4 849.7,158.2 850.3,158.1 850.9,157.7 851.4,157.3 852.0,157.2 852.5,157.4 853.1,157.6 853.7,157.6 854.2,157.3 854.8,156.8 855.3,156.5 855.9,156.5 856.5,156.7 857.0,156.8 857.6,156.9 858.1,156.9 858.7,156.6 859.3,155.9 859.8,155.3 860.4,155.2 861.0,155.4 861.5,155.6 862.1,155.5 862.6,155.5 863.2,155.6 863.8,156.0 864.3,156.4 864.9,156.3 865.4,155.9 866.0,155.7 866.6,155.8 867.1,155.9 867.7,155.8 868.2,155.8 868.8,156.0 869.4,156.4 869.9,156.6 870.5,156.6 871.0,156.4 871.6,156.1 872.2,156.1 872.7,156.5 873.3,157.0 873.9,157.4 874.4,157.5 875.0,157.3 875.5,157.0 876.1,157.1 876.7,157.5 877.2,157.4 877.8,156.6 878.3,155.8 878.9,155.4 879.5,155.3 880.0,155.3 880.6,155.4 881.1,155.6 881.7,156.1 882.3,156.6 882.8,157.1 883.4,157.5 883.9,157.8 884.5,157.9 885.1,157.7 885.6,157.6 886.2,157.9 886.8,158.2 887.3,158.1 887.9,157.9 888.4,158.1 889.0,158.7 889.6,159.4 890.1,159.6 890.7,159.2 891.2,158.4 891.8,157.7 892.4,157.6 892.9,158.2 893.5,159.0 894.0,159.2 894.6,158.4 895.2,157.4 895.7,156.9 896.3,156.9 896.8,157.0 897.4,157.2 898.0,157.7 898.5,158.0 899.1,158.2 899.7,158.2 900.2,158.2 900.8,157.9 901.3,157.6 901.9,157.4 902.5,157.5 903.0,157.8 903.6,158.1 904.1,158.4 904.7,158.8 905.3,158.9 905.8,159.0 906.4,159.3 906.9,159.7 907.5,159.7 908.1,159.0 908.6,158.5 909.2,158.8 909.7,159.8 910.3,160.6 910.9,160.7 911.4,160.2 912.0,159.7 912.6,159.3 913.1,159.2 913.7,159.2 914.2,159.4 914.8,159.6 915.4,159.5 915.9,159.0 916.5,158.5 917.0,158.3 917.6,158.2 918.2,158.4 918.7,159.1 919.3,159.9 919.8,160.5 920.4,160.7 921.0,160.4 921.5,159.7 922.1,159.2 922.6,159.0 923.2,159.1 923.8,159.4 924.3,159.9 924.9,160.6 925.5,161.3 926.0,161.7 926.6,161.8 927.1,161.7 927.7,161.7 928.3,161.8 928.8,161.6 929.4,161.1 929.9,160.3 930.5,159.6 931.1,159.5 931.6,160.1 932.2,160.8 932.7,161.0 933.3,160.7 933.9,160.2 934.4,159.8 935.0,159.4 935.5,159.3 936.1,159.3 936.7,159.5 937.2,159.8 937.8,159.9 938.3,159.7 938.9,159.7 939.5,160.2 940.0,160.9 940.6,161.4 941.2,161.7 941.7,161.5 942.3,161.2 942.8,161.3 943.4,161.7 944.0,161.9 944.5,161.7 945.1,161.8 945.6,162.2 946.2,162.6 946.8,162.6 947.3,162.1 947.9,161.7 948.4,161.5 949.0,161.3 949.6,160.7 950.1,160.3 950.7,160.7 951.2,161.6 951.8,162.2 952.4,162.3 952.9,162.4 953.5,162.7 954.1,162.9 954.6,162.9 955.2,162.7 955.7,162.3 956.3,161.9 956.9,161.6 957.4,161.5 958.0,161.5 958.5,161.7 959.1,162.0 959.7,162.3 960.2,162.3 960.8,162.0 961.3,161.7 961.9,161.8 962.5,162.3 963.0,162.7 963.6,162.7 964.1,162.5 964.7,162.0 965.3,161.6 965.8,161.5 966.4,161.8 967.0,162.2 967.5,162.4 968.1,162.2 968.6,161.6 969.2,160.9 969.8,160.9 970.3,161.8 970.9,162.9 971.4,163.4 972.0,163.2 972.6,162.7 973.1,162.7 973.7,163.0 974.2,163.3 974.8,163.3 975.4,163.1 975.9,163.0 976.5,163.0 977.0,163.2 977.6,163.3 978.2,162.9 978.7,162.3 979.3,162.0 979.9,162.1 980.4,162.5 981.0,162.8 981.5,162.9 982.1,163.2 982.7,163.7 983.2,164.1 983.8,164.4 984.3,164.6 984.9,164.7 985.5,164.6 986.0,164.4 986.6,164.0 987.1,163.5 987.7,163.2 988.3,162.8 988.8,162.2 989.4,161.6 989.9,161.4 990.5,161.8 991.1,162.3 991.6,162.8 992.2,163.2 992.8,163.6 993.3,163.5 993.9,163.1 994.4,162.4 995.0,162.1 995.6,162.1 996.1,162.3 996.7,162.5 997.2,162.5 997.8,162.3 998.4,162.5 998.9,163.1 999.5,164.0 1000.0,164.5 1000.6,164.1 1001.2,163.0 1001.7,161.9 1002.3,161.5 1002.8,161.9 1003.4,162.5 1004.0,163.0 1004.5,163.2 1005.1,163.5 1005.7,163.9 1006.2,163.9 1006.8,163.7 1007.3,163.3 1007.9,163.2 1008.5,163.0 1009.0,162.5 1009.6,162.0 1010.1,162.0 1010.7,162.8 1011.3,164.0 1011.8,164.8 1012.4,164.8 1012.9,164.4 1013.5,163.8 1014.1,163.4 1014.6,163.2 1015.2,163.4 1015.7,163.7 1016.3,163.7 1016.9,163.6 1017.4,163.5 1018.0,163.5 1018.6,163.7 1019.1,163.9 1019.7,164.1 1020.2,164.1 1020.8,163.9 1021.4,163.6 1021.9,163.8 1022.5,164.6 1023.0,165.2 1023.6,165.0 1024.2,163.9 1024.7,162.8 1025.3,162.2 1025.8,162.1 1026.4,162.3 1027.0,162.3 1027.5,162.1 1028.1,161.6 1028.6,161.3 1029.2,161.5 1029.8,161.7 1030.3,162.0 1030.9,162.2 1031.5,162.2 1032.0,161.8 1032.6,161.6 1033.1,162.2 1033.7,163.1 1034.3,163.5 1034.8,163.0 1035.4,162.4 1035.9,162.1 1036.5,162.3 1037.1,162.7 1037.6,163.1 1038.2,163.3 1038.7,163.1 1039.3,163.0 1039.9,162.8 1040.4,162.4 1041.0,161.9 1041.5,161.4 1042.1,160.8 1042.7,160.4 1043.2,160.0 1043.8,159.6 1044.3,159.1 1044.9,159.2 1045.5,160.0 1046.0,161.3 1046.6,162.0 1047.2,161.9 1047.7,161.1 1048.3,160.3 1048.8,159.6 1049.4,159.0 1050.0,158.5 1050.5,158.3 1051.1,158.3 1051.6,158.3 1052.2,158.4 1052.8,158.7 1053.3,159.0 1053.9,159.1 1054.4,158.9 1055.0,158.5 1055.6,158.1 1056.1,157.9 1056.7,157.8 1057.2,158.0 1057.8,158.4 1058.4,158.5 1058.9,158.0 1059.5,157.2 1060.1,156.7 1060.6,156.7 1061.2,156.8 1061.7,156.9 1062.3,157.0 1062.9,157.1 1063.4,157.2 1064.0,157.3 1064.5,157.6 1065.1,157.6 1065.7,157.4 1066.2,157.1 1066.8,157.0 1067.3,156.7 1067.9,156.3 1068.5,155.8 1069.0,155.6 1069.6,155.7 1070.1,155.9 1070.7,155.8 1071.3,155.1 1071.8,154.1 1072.4,153.4 1073.0,153.6 1073.5,154.4 1074.1,155.4 1074.6,156.0 1075.2,156.0 1075.8,155.6 1076.3,155.2 1076.9,154.9 1077.4,154.6 1078.0,154.6 1078.6,155.0 1079.1,155.5 1079.7,155.8 1080.2,155.7 1080.8,155.4 1081.4,155.2 1081.9,155.3 1082.5,155.4 1083.0,155.3 1083.6,155.0 1084.2,154.7 1084.7,154.8 1085.3,155.2 1085.9,155.5 1086.4,155.8 1087.0,156.2 1087.5,156.4 1088.1,156.4 1088.7,156.5 1089.2,156.6 1089.8,156.4 1090.3,155.6 1090.9,154.6 1091.5,154.0 1092.0,154.1 1092.6,154.5 1093.1,154.8 1093.7,154.4 1094.3,153.9 1094.8,153.6 1095.4,154.0 1095.9,154.9 1096.5,156.3 1097.1,157.5 1097.6,157.8 1098.2,156.8 1098.8,155.2 1099.3,153.7 1099.9,153.1 1100.4,153.8 1101.0,155.1 1101.6,156.2 1102.1,156.8 1102.7,156.9 1103.2,156.9 1103.8,156.9 1104.4,156.4 1104.9,155.8 1105.5,155.5 1106.0,156.0 1106.6,156.8 1107.2,157.2 1107.7,156.9 1108.3,156.3 1108.8,156.0 1109.4,156.1 1110.0,156.3 1110.5,156.6 1111.1,156.8 1111.7,157.0 1112.2,157.1 1112.8,157.0 1113.3,156.8 1113.9,156.8 1114.5,156.9 1115.0,157.1 1115.6,157.1 1116.1,156.9 1116.7,156.6 1117.3,156.5 1117.8,156.8 1118.4,157.1 1118.9,157.2 1119.5,156.8 1120.1,156.3 1120.6,156.0 1121.2,156.1 1121.7,156.4 1122.3,156.9 1122.9,157.5 1123.4,157.9 1124.0,158.0 1124.6,158.0 1125.1,157.9 1125.7,158.0 1126.2,158.2 1126.8,158.3 1127.4,158.2 1127.9,157.9 1128.5,157.9 1129.0,158.2 1129.6,158.4 1130.2,158.6 1130.7,159.1 1131.3,159.8 1131.8,160.2 1132.4,160.0 1133.0,159.2 1133.5,158.4 1134.1,158.0 1134.6,158.2 1135.2,158.9 1135.8,159.3 1136.3,159.2 1136.9,159.0 1137.5,159.0 1138.0,159.0 1138.6,158.9 1139.1,158.8 1139.7,159.1 1140.3,159.8 1140.8,160.9 1141.4,161.6 1141.9,161.8 1142.5,161.8 1143.1,162.0 1143.6,162.3 1144.2,162.3 1144.7,161.9 1145.3,161.3 1145.9,161.0 1146.4,160.8 1147.0,160.5 1147.5,159.9 1148.1,159.1 1148.7,158.5 1149.2,158.3 1149.8,158.7 1150.3,159.3 1150.9,159.8 1151.5,160.4 1152.0,161.1 1152.6,162.0 1153.2,162.6 1153.7,162.9 1154.3,162.7 1154.8,162.3 1155.4,162.1 1156.0,162.1 1156.5,162.0 1157.1,161.6 1157.6,160.9 1158.2,160.3 1158.8,160.0 1159.3,159.9 1159.9,159.9 1160.4,160.0 1161.0,160.3 1161.6,160.9 1162.1,161.0 1162.7,160.7 1163.2,160.2 1163.8,160.1 1164.4,160.5 1164.9,161.0 1165.5,161.5 1166.1,161.8 1166.6,162.0 1167.2,162.0 1167.7,162.1 1168.3,162.2 1168.9,162.4 1169.4,162.6 1170.0,162.7 1170.5,162.6 1171.1,162.7 1171.7,163.0 1172.2,163.3 1172.8,163.4 1173.3,163.4 1173.9,163.3 1174.5,163.1 1175.0,162.7 1175.6,162.1 1176.1,161.8 1176.7,161.8 1177.3,161.7 1177.8,161.6 1178.4,161.7 1179.0,162.3 1179.5,162.7 1180.1,162.6 1180.6,162.2 1181.2,162.2 1181.8,162.4 1182.3,162.2 1182.9,161.4 1183.4,160.9 1184.0,160.8 1184.6,161.0 1185.1,161.0 1185.7,161.3 1186.2,161.9 1186.8,162.3 1187.4,162.5 1187.9,162.9 1188.5,163.4 1189.0,163.8 1189.6,163.8 1190.2,163.6 1190.7,163.4 1191.3,163.1 1191.9,162.7 1192.4,162.3 1193.0,162.1 1193.5,162.2 1194.1,162.5 1194.7,162.5 1195.2,162.0 1195.8,161.5 1196.3,161.0 1196.9,160.9 1197.5,161.2 1198.0,161.9 1198.6,162.6 1199.1,163.0 1199.7,163.1 1200.3,162.9 1200.8,162.6 1201.4,162.3 1201.9,162.3 1202.5,162.5 1203.1,162.9 1203.6,162.8 1204.2,162.4 1204.8,162.0 1205.3,161.9 1205.9,162.2 1206.4,162.4 1207.0,162.6 1207.6,162.7 1208.1,163.0 1208.7,163.2 1209.2,163.2 1209.8,163.0 1210.4,162.7 1210.9,162.4 1211.5,162.1 1212.0,162.1 1212.6,162.4 1213.2,163.2 1213.7,163.9 1214.3,164.3 1214.8,164.2 1215.4,164.0 1216.0,163.8 1216.5,163.8 1217.1,164.0 1217.7,164.3 1218.2,164.2 1218.8,163.7 1219.3,163.0 1219.9,162.6 1220.5,162.0 1221.0,161.5 1221.6,161.5 1222.1,162.4 1222.7,163.5 1223.3,164.2 1223.8,164.5 1224.4,164.3 1224.9,163.8 1225.5,163.2 1226.1,162.8 1226.6,162.8 1227.2,162.8 1227.7,162.6 1228.3,162.3 1228.9,162.1 1229.4,162.1 1230.0,162.0 1230.6,161.9 1231.1,161.5 1231.7,161.4 1232.2,161.7 1232.8,162.1 1233.4,162.4 1233.9,162.7 1234.5,162.8 1235.0,162.6 1235.6,162.3 1236.2,162.3 1236.7,162.5 1237.3,162.5 1237.8,162.4 1238.4,162.6 1239.0,163.1 1239.5,163.4 1240.1,163.3 1240.6,163.0 1241.2,162.9 1241.8,162.8 1242.3,162.6 1242.9,162.3 1243.4,162.0 1244.0,161.9 1244.6,161.9 1245.1,162.1 1245.7,162.3 1246.3,162.2 1246.8,162.0 1247.4,162.0 1247.9,162.3 1248.5,162.8 1249.1,162.9 1249.6,162.5 1250.2,162.0 1250.7,161.9 1251.3,162.6 1251.9,163.6 1252.4,164.0 1253.0,163.7 1253.5,163.0 1254.1,162.5 1254.7,162.3 1255.2,162.8 1255.8,163.6 1256.3,164.1 1256.9,164.3 1257.5,164.4 1258.0,164.4 1258.6,164.0 1259.2,163.2 1259.7,162.6 1260.3,162.7 1260.8,163.4 1261.4,163.9 1262.0,163.8 1262.5,163.4 1263.1,163.1 1263.6,163.3 1264.2,163.7 1264.8,163.9 1265.3,163.9 1265.9,163.9 1266.4,163.8 1267.0,163.6 1267.6,163.3 1268.1,163.2 1268.7,163.4 1269.2,163.7 1269.8,163.5 1270.4,163.4 1270.9,163.5 1271.5,163.4 1272.1,162.9 1272.6,162.2 1273.2,161.7 1273.7,161.6 1274.3,161.9 1274.9,162.6 1275.4,163.5 1276.0,164.6 1276.5,165.1 1277.1,164.6 1277.7,163.5 1278.2,162.3 1278.8,161.4 1279.3,161.1 1279.9,161.0 1280.5,161.0 1281.0,161.1 1281.6,161.0 1282.1,160.8 1282.7,160.8 1283.3,161.3 1283.8,162.2 1284.4,163.1 1285.0,163.6 1285.5,163.6 1286.1,163.3 1286.6,163.1 1287.2,163.4 1287.8,163.8 1288.3,163.7 1288.9,163.0 1289.4,162.5 1290.0,162.3" stroke="#ff00ff" stroke-width="2.8"/>
<polyline points="785.8,162.7 786.4,162.6 786.9,162.3 787.5,162.1 788.0,162.0 788.6,162.2 789.2,162.7 789.7,163.0 790.3,162.7 790.8,162.6 791.4,162.8 792.0,162.9 792.5,162.7 793.1,162.5 793.7,162.6 794.2,162.6 794.8,162.2 795.3,161.7 795.9,161.4 796.5,161.3 797.0,161.5 797.6,161.8 798.1,162.2 798.7,162.5 799.3,162.6 799.8,162.1 800.4,161.7 800.9,162.0 801.5,162.4 802.1,162.4 802.6,162.1 803.2,162.0 803.7,162.1 804.3,162.4 804.9,162.7 805.4,162.7 806.0,162.8 806.6,162.9 807.1,162.8 807.7,162.7 808.2,162.7 808.8,162.6 809.4,162.5 809.9,162.8 810.5,162.9 811.0,162.8 811.6,162.9 812.2,163.0 812.7,163.2 813.3,163.6 813.8,163.4 814.4,163.0 815.0,163.1 815.5,163.5 816.1,163.8 816.6,164.1 817.2,164.5 817.8,165.0 818.3,165.3 818.9,165.1 819.5,165.1 820.0,165.4 820.6,165.5 821.1,165.6 821.7,166.3 822.3,167.7 822.8,169.1 823.4,169.3 823.9,168.8 824.5,169.0 825.1,169.5 825.6,169.7 826.2,170.8 826.7,172.9 827.3,174.7 827.9,175.3 828.4,175.0 829.0,175.3 829.5,176.7 830.1,178.0 830.7,178.1 831.2,178.3 831.8,179.0 832.4,179.4 832.9,179.3 833.5,179.5 834.0,180.6 834.6,182.3 835.2,184.0 835.7,184.7 836.3,184.8 836.8,185.1 837.4,185.7 838.0,186.5 838.5,186.9 839.1,186.6 839.6,186.1 840.2,185.8 840.8,185.1 841.3,185.3 841.9,186.9 842.4,189.0 843.0,191.4 843.6,192.6 844.1,191.9 844.7,191.5 845.2,192.5 845.8,193.3 846.4,193.5 846.9,194.0 847.5,194.7 848.1,194.6 848.6,194.0 849.2,194.1 849.7,194.3 850.3,194.5 850.9,195.0 851.4,195.9 852.0,196.9 852.5,197.3 853.1,196.8 853.7,196.2 854.2,195.4 854.8,194.7 855.3,195.3 855.9,196.2 856.5,196.6 857.0,197.3 857.6,197.9 858.1,198.7 858.7,199.4 859.3,200.0 859.8,199.8 860.4,200.0 861.0,201.6 861.5,202.4 862.1,201.5 862.6,200.4 863.2,200.0 863.8,200.3 864.3,201.0 864.9,200.8 865.4,200.1 866.0,199.4 866.6,199.1 867.1,199.9 867.7,201.3 868.2,201.9 868.8,201.8 869.4,200.8 869.9,199.7 870.5,199.3 871.0,199.3 871.6,199.4 872.2,199.1 872.7,198.3 873.3,197.9 873.9,198.8 874.4,199.8 875.0,199.1 875.5,198.6 876.1,199.4 876.7,199.5 877.2,198.1 877.8,197.1 878.3,196.6 878.9,196.8 879.5,197.9 880.0,198.4 880.6,198.0 881.1,197.6 881.7,197.5 882.3,197.2 882.8,196.4 883.4,195.8 883.9,196.3 884.5,197.5 885.1,197.7 885.6,197.4 886.2,197.0 886.8,196.5 887.3,196.6 887.9,197.0 888.4,196.9 889.0,196.9 889.6,197.7 890.1,198.5 890.7,198.4 891.2,197.2 891.8,195.7 892.4,195.7 892.9,197.1 893.5,197.9 894.0,197.6 894.6,197.7 895.2,198.2 895.7,198.3 896.3,197.7 896.8,197.1 897.4,196.7 898.0,196.2 898.5,196.5 899.1,197.4 899.7,198.3 900.2,198.7 900.8,197.0 901.3,194.2 901.9,193.0 902.5,193.6 903.0,193.9 903.6,194.2 904.1,193.6 904.7,191.9 905.3,191.4 905.8,192.9 906.4,193.9 906.9,194.0 907.5,193.4 908.1,192.5 908.6,192.1 909.2,192.3 909.7,192.3 910.3,192.8 910.9,194.2 911.4,195.2 912.0,194.9 912.6,194.0 913.1,193.4 913.7,193.4 914.2,194.0 914.8,194.8 915.4,195.4 915.9,196.4 916.5,197.6 917.0,197.6 917.6,196.7 918.2,196.3 918.7,196.0 919.3,195.0 919.8,194.3 920.4,194.9 921.0,196.0 921.5,196.1 922.1,195.9 922.6,196.2 923.2,196.2 923.8,194.6 924.3,192.5 924.9,191.2 925.5,190.1 926.0,190.3 926.6,192.9 927.1,195.3 927.7,194.9 928.3,193.7 928.8,194.1 929.4,195.4 929.9,195.6 930.5,195.2 931.1,195.0 931.6,195.4 932.2,195.9 932.7,195.7 933.3,194.7 933.9,193.9 934.4,194.0 935.0,194.2 935.5,194.0 936.1,193.3 936.7,192.9 937.2,193.0 937.8,193.8 938.3,195.4 938.9,195.7 939.5,194.6 940.0,193.6 940.6,192.0 941.2,190.5 941.7,190.9 942.3,191.6 942.8,191.2 943.4,190.4 944.0,190.5 944.5,191.4 945.1,192.1 945.6,191.9 946.2,191.5 946.8,191.0 947.3,189.3 947.9,187.6 948.4,187.7 949.0,189.3 949.6,190.2 950.1,189.6 950.7,188.4 951.2,187.1 951.8,186.0 952.4,185.0 952.9,184.6 953.5,185.0 954.1,185.3 954.6,184.1 955.2,182.1 955.7,180.7 956.3,180.7 956.9,181.2 957.4,180.3 958.0,178.4 958.5,176.4 959.1,175.3 959.7,175.2 960.2,174.8 960.8,173.6 961.3,172.2 961.9,171.0 962.5,169.6 963.0,168.0 963.6,167.1 964.1,166.7 964.7,166.1 965.3,165.4 965.8,164.8 966.4,163.9 967.0,162.0 967.5,160.2 968.1,159.0 968.6,157.7 969.2,156.6 969.8,156.2 970.3,155.4 970.9,153.4 971.4,151.2 972.0,149.6 972.6,148.1 973.1,146.6 973.7,145.5 974.2,144.7 974.8,143.7 975.4,142.7 975.9,141.5 976.5,139.9 977.0,138.5 977.6,136.9 978.2,134.7 978.7,132.6 979.3,131.0 979.9,130.0 980.4,129.0 981.0,127.2 981.5,124.9 982.1,123.0 982.7,121.6 983.2,120.2 983.8,118.7 984.3,117.2 984.9,115.6 985.5,113.9 986.0,112.3 986.6,110.9 987.1,109.5 987.7,108.4 988.3,107.2 988.8,105.4 989.4,103.2 989.9,101.3 990.5,99.6 991.1,98.0 991.6,96.9 992.2,96.3 992.8,95.2 993.3,93.4 993.9,91.6 994.4,90.5 995.0,89.8 995.6,89.3 996.1,88.5 996.7,86.8 997.2,85.0 997.8,83.7 998.4,82.8 998.9,81.8 999.5,80.8 1000.0,79.9 1000.6,79.3 1001.2,79.0 1001.7,78.6 1002.3,77.6 1002.8,76.5 1003.4,75.6 1004.0,74.8 1004.5,73.9 1005.1,73.1 1005.7,72.3 1006.2,72.1 1006.8,72.2 1007.3,72.1 1007.9,71.9 1008.5,71.3 1009.0,70.6 1009.6,70.4 1010.1,70.6 1010.7,70.7 1011.3,70.7 1011.8,70.6 1012.4,70.3 1012.9,69.8 1013.5,69.9 1014.1,70.3 1014.6,70.3 1015.2,70.3 1015.7,70.9 1016.3,71.5 1016.9,71.6 1017.4,71.3 1018.0,71.3 1018.6,71.9 1019.1,72.7 1019.7,73.2 1020.2,73.2 1020.8,73.1 1021.4,73.1 1021.9,73.3 1022.5,74.0 1023.0,74.8 1023.6,75.5 1024.2,76.2 1024.7,76.7 1025.3,77.0 1025.8,77.6 1026.4,78.5 1027.0,79.3 1027.5,80.0 1028.1,80.8 1028.6,81.6 1029.2,82.4 1029.8,83.4 1030.3,84.8 1030.9,86.0 1031.5,86.7 1032.0,87.7 1032.6,88.7 1033.1,90.0 1033.7,91.5 1034.3,92.9 1034.8,94.2 1035.4,95.2 1035.9,96.3 1036.5,97.5 1037.1,98.8 1037.6,100.3 1038.2,101.8 1038.7,103.1 1039.3,104.2 1039.9,105.4 1040.4,106.9 1041.0,108.7 1041.5,110.1 1042.1,111.2 1042.7,112.3 1043.2,113.6 1043.8,115.1 1044.3,116.3 1044.9,117.8 1045.5,119.7 1046.0,121.3 1046.6,122.4 1047.2,123.6 1047.7,125.1 1048.3,126.9 1048.8,128.6 1049.4,130.1 1050.0,131.7 1050.5,133.4 1051.1,135.0 1051.6,136.4 1052.2,137.6 1052.8,138.8 1053.3,140.8 1053.9,143.1 1054.4,144.8 1055.0,146.3 1055.6,147.8 1056.1,149.5 1056.7,151.4 1057.2,152.9 1057.8,153.7 1058.4,154.6 1058.9,156.2 1059.5,158.2 1060.1,160.3 1060.6,161.9 1061.2,162.9 1061.7,164.2 1062.3,166.0 1062.9,167.5 1063.4,168.6 1064.0,170.1 1064.5,171.8 1065.1,173.3 1065.7,174.4 1066.2,175.4 1066.8,176.6 1067.3,178.2 1067.9,180.1 1068.5,181.3 1069.0,181.7 1069.6,182.1 1070.1,182.9 1070.7,184.1 1071.3,185.4 1071.8,186.3 1072.4,186.9 1073.0,187.5 1073.5,188.5 1074.1,189.7 1074.6,191.0 1075.2,191.7 1075.8,191.7 1076.3,191.9 1076.9,192.4 1077.4,193.1 1078.0,193.8 1078.6,194.6 1079.1,195.6 1079.7,196.7 1080.2,197.6 1080.8,198.4 1081.4,199.0 1081.9,199.6 1082.5,200.4 1083.0,201.3 1083.6,202.3 1084.2,203.1 1084.7,203.6 1085.3,204.0 1085.9,204.5 1086.4,204.9 1087.0,205.4 1087.5,205.8 1088.1,206.2 1088.7,207.0 1089.2,207.7 1089.8,208.0 1090.3,208.2 1090.9,208.3 1091.5,208.6 1092.0,208.9 1092.6,209.3 1093.1,209.6 1093.7,209.9 1094.3,210.4 1094.8,210.7 1095.4,210.9 1095.9,211.1 1096.5,211.1 1097.1,211.2 1097.6,211.7 1098.2,212.2 1098.8,212.4 1099.3,212.4 1099.9,212.3 1100.4,212.5 1101.0,212.9 1101.6,213.0 1102.1,212.8 1102.7,212.7 1103.2,213.2 1103.8,213.7 1104.4,213.6 1104.9,213.0 1105.5,212.7 1106.0,212.6 1106.6,212.2 1107.2,211.7 1107.7,211.6 1108.3,211.5 1108.8,211.5 1109.4,211.9 1110.0,212.3 1110.5,212.3 1111.1,212.5 1111.7,212.8 1112.2,212.6 1112.8,211.8 1113.3,211.0 1113.9,210.5 1114.5,210.5 1115.0,210.8 1115.6,210.9 1116.1,210.8 1116.7,210.5 1117.3,210.1 1117.8,210.0 1118.4,210.1 1118.9,210.1 1119.5,209.9 1120.1,209.4 1120.6,208.8 1121.2,208.2 1121.7,207.5 1122.3,207.2 1122.9,207.3 1123.4,207.2 1124.0,206.6 1124.6,205.9 1125.1,205.5 1125.7,205.2 1126.2,204.5 1126.8,204.2 1127.4,204.4 1127.9,204.7 1128.5,204.4 1129.0,203.9 1129.6,203.4 1130.2,202.8 1130.7,202.0 1131.3,202.1 1131.8,202.5 1132.4,202.7 1133.0,202.6 1133.5,202.1 1134.1,201.4 1134.6,200.9 1135.2,200.3 1135.8,199.8 1136.3,199.6 1136.9,199.8 1137.5,199.6 1138.0,198.8 1138.6,198.2 1139.1,198.1 1139.7,198.0 1140.3,197.6 1140.8,197.1 1141.4,196.3 1141.9,195.9 1142.5,195.8 1143.1,195.8 1143.6,195.2 1144.2,194.3 1144.7,193.9 1145.3,193.7 1145.9,193.3 1146.4,193.1 1147.0,193.4 1147.5,193.4 1148.1,192.9 1148.7,192.6 1149.2,192.4 1149.8,192.1 1150.3,191.6 1150.9,190.9 1151.5,190.4 1152.0,190.3 1152.6,190.2 1153.2,190.1 1153.7,189.7 1154.3,189.2 1154.8,189.0 1155.4,188.9 1156.0,188.7 1156.5,188.3 1157.1,188.3 1157.6,188.8 1158.2,189.1 1158.8,188.6 1159.3,187.8 1159.9,187.3 1160.4,186.9 1161.0,186.2 1161.6,185.6 1162.1,185.4 1162.7,185.0 1163.2,184.2 1163.8,183.6 1164.4,183.5 1164.9,183.7 1165.5,183.6 1166.1,183.4 1166.6,183.4 1167.2,183.2 1167.7,182.8 1168.3,182.4 1168.9,181.8 1169.4,181.5 1170.0,181.4 1170.5,181.5 1171.1,181.2 1171.7,180.6 1172.2,180.4 1172.8,180.3 1173.3,179.9 1173.9,179.3 1174.5,179.1 1175.0,179.7 1175.6,180.2 1176.1,180.0 1176.7,179.5 1177.3,179.4 1177.8,179.2 1178.4,178.6 1179.0,178.2 1179.5,178.2 1180.1,178.0 1180.6,177.7 1181.2,177.6 1181.8,177.9 1182.3,177.8 1182.9,177.2 1183.4,176.3 1184.0,175.6 1184.6,175.6 1185.1,175.7 1185.7,175.6 1186.2,175.3 1186.8,174.7 1187.4,174.2 1187.9,174.1 1188.5,174.0 1189.0,173.7 1189.6,173.4 1190.2,173.1 1190.7,173.0 1191.3,173.5 1191.9,173.9 1192.4,174.1 1193.0,173.8 1193.5,172.8 1194.1,171.8 1194.7,171.3 1195.2,171.3 1195.8,171.4 1196.3,171.3 1196.9,171.0 1197.5,170.9 1198.0,170.9 1198.6,171.0 1199.1,171.0 1199.7,170.8 1200.3,170.6 1200.8,170.2 1201.4,169.8 1201.9,169.8 1202.5,170.4 1203.1,171.3 1203.6,171.6 1204.2,171.1 1204.8,170.4 1205.3,170.0 1205.9,169.9 1206.4,169.6 1207.0,169.2 1207.6,168.9 1208.1,168.7 1208.7,168.5 1209.2,168.2 1209.8,168.1 1210.4,168.4 1210.9,168.8 1211.5,168.5 1212.0,168.1 1212.6,168.0 1213.2,167.7 1213.7,167.3 1214.3,167.3 1214.8,167.5 1215.4,167.5 1216.0,167.5 1216.5,167.3 1217.1,166.9 1217.7,166.6 1218.2,166.6 1218.8,166.4 1219.3,165.8 1219.9,165.6 1220.5,166.0 1221.0,166.4 1221.6,166.7 1222.1,166.4 1222.7,165.9 1223.3,165.8 1223.8,165.7 1224.4,165.5 1224.9,165.3 1225.5,164.8 1226.1,164.4 1226.6,164.4 1227.2,164.5 1227.7,164.9 1228.3,165.4 1228.9,165.8 1229.4,165.7 1230.0,165.0 1230.6,164.3 1231.1,164.1 1231.7,164.1 1232.2,164.2 1232.8,164.4 1233.4,164.1 1233.9,164.0 1234.5,164.4 1235.0,164.7 1235.6,164.8 1236.2,164.8 1236.7,164.9 1237.3,165.0 1237.8,165.0 1238.4,164.9 1239.0,164.6 1239.5,164.2 1240.1,163.8 1240.6,163.7 1241.2,163.9 1241.8,163.9 1242.3,164.0 1242.9,164.2 1243.4,163.9 1244.0,163.2 1244.6,162.9 1245.1,163.2 1245.7,163.4 1246.3,163.5 1246.8,163.5 1247.4,163.6 1247.9,163.6 1248.5,163.6 1249.1,163.9 1249.6,164.5 1250.2,164.5 1250.7,163.7 1251.3,163.2 1251.9,163.2 1252.4,163.2 1253.0,163.1 1253.5,163.0 1254.1,162.9 1254.7,162.7 1255.2,162.5 1255.8,162.3 1256.3,162.0 1256.9,162.2 1257.5,162.7 1258.0,163.0 1258.6,162.8 1259.2,162.5 1259.7,162.9 1260.3,163.4 1260.8,163.5 1261.4,163.2 1262.0,163.0 1262.5,163.0 1263.1,162.7 1263.6,162.5 1264.2,162.9 1264.8,163.5 1265.3,163.7 1265.9,163.6 1266.4,163.4 1267.0,163.2 1267.6,163.2 1268.1,163.6 1268.7,164.0 1269.2,163.8 1269.8,163.2 1270.4,163.1 1270.9,163.3 1271.5,163.2 1272.1,162.7 1272.6,162.2 1273.2,162.4 1273.7,162.9 1274.3,163.3 1274.9,163.5 1275.4,163.5 1276.0,163.2 1276.5,163.1 1277.1,163.6 1277.7,164.0 1278.2,163.8 1278.8,163.4 1279.3,163.4 1279.9,163.3 1280.5,162.9 1281.0,162.8 1281.6,163.0 1282.1,163.1 1282.7,162.9 1283.3,162.8 1283.8,162.7 1284.4,162.6 1285.0,162.4 1285.5,162.3 1286.1,162.6 1286.6,162.7 1287.2,162.6 1287.8,162.5 1288.3,162.6 1288.9,162.4 1289.4,162.2 1290.0,162.0" stroke="#000" stroke-width="3.0"/>
<polyline points="785.8,158.8 786.4,158.9 786.9,158.7 787.5,158.3 788.0,158.0 788.6,157.9 789.2,158.0 789.7,157.9 790.3,157.8 790.8,157.9 791.4,158.0 792.0,158.1 792.5,157.8 793.1,157.6 793.7,157.7 794.2,157.9 794.8,157.8 795.3,157.6 795.9,157.2 796.5,157.1 797.0,157.5 797.6,157.8 798.1,157.8 798.7,157.8 799.3,157.7 799.8,157.4 800.4,157.3 800.9,157.4 801.5,157.5 802.1,157.4 802.6,157.4 803.2,157.3 803.7,157.3 804.3,157.4 804.9,157.3 805.4,157.0 806.0,157.2 806.6,157.6 807.1,157.7 807.7,157.5 808.2,157.4 808.8,157.4 809.4,157.2 809.9,157.1 810.5,157.0 811.0,156.8 811.6,156.8 812.2,156.8 812.7,156.7 813.3,156.6 813.8,156.6 814.4,156.8 815.0,156.8 815.5,156.8 816.1,156.7 816.6,156.6 817.2,156.1 817.8,155.4 818.3,154.8 818.9,154.7 819.5,154.7 820.0,153.8 820.6,152.2 821.1,151.6 821.7,151.9 822.3,152.0 822.8,151.5 823.4,150.8 823.9,150.3 824.5,149.9 825.1,149.1 825.6,148.0 826.2,146.8 826.7,146.2 827.3,146.0 827.9,145.5 828.4,144.5 829.0,143.4 829.5,142.4 830.1,141.0 830.7,139.5 831.2,138.8 831.8,139.0 832.4,139.3 832.9,138.9 833.5,138.0 834.0,137.1 834.6,136.0 835.2,135.2 835.7,134.8 836.3,134.1 836.8,132.8 837.4,131.6 838.0,130.9 838.5,130.2 839.1,129.7 839.6,129.5 840.2,128.8 840.8,127.9 841.3,127.1 841.9,126.8 842.4,126.5 843.0,126.4 843.6,126.6 844.1,126.4 844.7,125.8 845.2,124.4 845.8,122.6 846.4,121.8 846.9,121.6 847.5,121.1 848.1,120.2 848.6,118.9 849.2,117.6 849.7,117.0 850.3,116.7 850.9,116.9 851.4,116.8 852.0,116.5 852.5,116.5 853.1,115.8 853.7,114.5 854.2,113.4 854.8,112.9 855.3,113.0 855.9,114.1 856.5,115.1 857.0,114.9 857.6,114.3 858.1,113.8 858.7,113.8 859.3,113.9 859.8,114.3 860.4,115.1 861.0,115.3 861.5,114.5 862.1,113.4 862.6,112.9 863.2,113.1 863.8,113.4 864.3,113.7 864.9,113.7 865.4,113.1 866.0,112.0 866.6,112.0 867.1,112.5 867.7,112.1 868.2,111.5 868.8,111.2 869.4,111.5 869.9,113.1 870.5,114.4 871.0,113.8 871.6,112.0 872.2,111.4 872.7,112.0 873.3,112.6 873.9,112.4 874.4,112.7 875.0,113.7 875.5,113.9 876.1,113.0 876.7,111.9 877.2,111.6 877.8,111.8 878.3,112.5 878.9,113.9 879.5,115.1 880.0,116.5 880.6,117.5 881.1,117.2 881.7,116.6 882.3,117.0 882.8,117.2 883.4,116.3 883.9,115.8 884.5,115.9 885.1,116.3 885.6,116.5 886.2,115.9 886.8,116.0 887.3,117.0 887.9,118.0 888.4,118.6 889.0,119.0 889.6,119.2 890.1,118.8 890.7,118.1 891.2,118.2 891.8,118.9 892.4,119.4 892.9,119.5 893.5,119.3 894.0,119.7 894.6,120.6 895.2,121.0 895.7,121.7 896.3,122.9 896.8,122.9 897.4,121.8 898.0,122.3 898.5,123.5 899.1,123.2 899.7,122.1 900.2,121.3 900.8,120.9 901.3,121.0 901.9,121.5 902.5,121.8 903.0,121.5 903.6,121.0 904.1,120.8 904.7,121.0 905.3,121.4 905.8,122.3 906.4,123.2 906.9,123.5 907.5,123.4 908.1,123.2 908.6,122.9 909.2,122.6 909.7,122.7 910.3,122.9 910.9,123.1 911.4,123.4 912.0,123.1 912.6,122.3 913.1,122.1 913.7,122.3 914.2,122.7 914.8,123.1 915.4,123.1 915.9,122.0 916.5,120.8 917.0,120.7 917.6,121.5 918.2,123.0 918.7,124.3 919.3,124.0 919.8,123.2 920.4,123.7 921.0,124.9 921.5,125.2 922.1,125.4 922.6,126.4 923.2,127.2 923.8,126.7 924.3,125.6 924.9,125.0 925.5,124.5 926.0,123.6 926.6,123.1 927.1,123.2 927.7,123.4 928.3,124.0 928.8,125.1 929.4,125.4 929.9,124.4 930.5,123.7 931.1,123.9 931.6,124.4 932.2,124.3 932.7,123.2 933.3,122.0 933.9,121.5 934.4,122.2 935.0,123.2 935.5,123.2 936.1,122.9 936.7,123.1 937.2,123.7 937.8,123.9 938.3,123.5 938.9,122.8 939.5,122.5 940.0,123.3 940.6,124.0 941.2,123.8 941.7,124.1 942.3,124.8 942.8,125.0 943.4,125.1 944.0,125.6 944.5,126.0 945.1,125.7 945.6,125.4 946.2,125.8 946.8,126.5 947.3,127.4 947.9,128.6 948.4,129.7 949.0,130.2 949.6,130.5 950.1,131.6 950.7,132.7 951.2,133.4 951.8,133.5 952.4,133.1 952.9,133.2 953.5,133.4 954.1,133.6 954.6,134.1 955.2,134.6 955.7,134.8 956.3,135.1 956.9,136.4 957.4,138.4 958.0,140.3 958.5,141.2 959.1,141.3 959.7,141.5 960.2,142.3 960.8,143.5 961.3,144.9 961.9,146.4 962.5,147.5 963.0,147.5 963.6,147.3 964.1,147.9 964.7,149.1 965.3,151.1 965.8,153.2 966.4,154.4 967.0,155.5 967.5,157.3 968.1,159.0 968.6,159.9 969.2,161.0 969.8,162.6 970.3,164.5 970.9,166.5 971.4,168.3 972.0,170.0 972.6,171.5 973.1,172.7 973.7,173.6 974.2,174.5 974.8,176.1 975.4,177.9 975.9,179.6 976.5,181.3 977.0,182.8 977.6,184.5 978.2,186.5 978.7,188.3 979.3,189.9 979.9,191.7 980.4,193.3 981.0,194.5 981.5,195.7 982.1,197.4 982.7,199.3 983.2,201.3 983.8,203.3 984.3,205.2 984.9,206.7 985.5,208.4 986.0,210.3 986.6,211.7 987.1,213.1 987.7,214.8 988.3,216.4 988.8,217.9 989.4,219.4 989.9,220.7 990.5,222.1 991.1,223.7 991.6,225.2 992.2,226.4 992.8,227.9 993.3,229.5 993.9,231.0 994.4,232.1 995.0,233.1 995.6,234.2 996.1,235.3 996.7,236.6 997.2,237.9 997.8,239.0 998.4,239.7 998.9,240.4 999.5,241.4 1000.0,242.7 1000.6,244.0 1001.2,245.1 1001.7,246.1 1002.3,247.0 1002.8,247.7 1003.4,248.1 1004.0,248.3 1004.5,248.9 1005.1,249.9 1005.7,251.0 1006.2,251.9 1006.8,252.7 1007.3,253.5 1007.9,254.1 1008.5,254.4 1009.0,254.5 1009.6,254.7 1010.1,255.0 1010.7,255.4 1011.3,255.7 1011.8,256.1 1012.4,256.3 1012.9,256.2 1013.5,256.2 1014.1,256.4 1014.6,256.7 1015.2,256.9 1015.7,256.8 1016.3,256.5 1016.9,256.2 1017.4,256.1 1018.0,255.9 1018.6,255.6 1019.1,254.9 1019.7,254.1 1020.2,253.9 1020.8,254.1 1021.4,254.0 1021.9,253.3 1022.5,252.5 1023.0,251.8 1023.6,251.6 1024.2,251.0 1024.7,249.8 1025.3,248.5 1025.8,247.6 1026.4,247.2 1027.0,246.7 1027.5,245.5 1028.1,244.1 1028.6,242.6 1029.2,241.1 1029.8,239.8 1030.3,238.4 1030.9,237.1 1031.5,236.1 1032.0,235.0 1032.6,233.7 1033.1,232.1 1033.7,230.4 1034.3,228.9 1034.8,227.6 1035.4,226.2 1035.9,224.7 1036.5,223.2 1037.1,221.8 1037.6,220.3 1038.2,218.9 1038.7,217.8 1039.3,216.9 1039.9,216.0 1040.4,214.6 1041.0,212.7 1041.5,211.2 1042.1,210.0 1042.7,208.6 1043.2,207.2 1043.8,205.8 1044.3,204.0 1044.9,202.1 1045.5,200.6 1046.0,199.4 1046.6,197.9 1047.2,196.2 1047.7,194.7 1048.3,193.6 1048.8,192.2 1049.4,190.7 1050.0,189.3 1050.5,187.7 1051.1,185.9 1051.6,184.6 1052.2,183.3 1052.8,181.6 1053.3,180.1 1053.9,179.2 1054.4,178.3 1055.0,177.1 1055.6,175.6 1056.1,174.5 1056.7,173.2 1057.2,172.1 1057.8,171.0 1058.4,169.6 1058.9,167.9 1059.5,166.4 1060.1,165.0 1060.6,163.5 1061.2,162.4 1061.7,161.9 1062.3,160.9 1062.9,159.4 1063.4,157.9 1064.0,156.8 1064.5,155.7 1065.1,154.2 1065.7,152.3 1066.2,150.5 1066.8,148.8 1067.3,147.3 1067.9,146.1 1068.5,145.1 1069.0,144.0 1069.6,143.0 1070.1,142.2 1070.7,141.3 1071.3,140.1 1071.8,138.6 1072.4,137.2 1073.0,135.7 1073.5,134.4 1074.1,133.2 1074.6,131.8 1075.2,130.5 1075.8,129.5 1076.3,128.8 1076.9,128.0 1077.4,126.8 1078.0,125.5 1078.6,124.3 1079.1,123.3 1079.7,122.9 1080.2,122.9 1080.8,122.5 1081.4,121.4 1081.9,120.4 1082.5,119.7 1083.0,119.2 1083.6,118.7 1084.2,118.2 1084.7,117.6 1085.3,116.9 1085.9,116.1 1086.4,115.2 1087.0,114.5 1087.5,113.9 1088.1,113.5 1088.7,113.2 1089.2,112.8 1089.8,112.5 1090.3,112.0 1090.9,111.3 1091.5,110.8 1092.0,110.8 1092.6,110.9 1093.1,110.9 1093.7,110.5 1094.3,109.9 1094.8,109.4 1095.4,108.9 1095.9,108.5 1096.5,107.9 1097.1,107.7 1097.6,108.0 1098.2,107.9 1098.8,107.2 1099.3,106.8 1099.9,106.5 1100.4,106.2 1101.0,105.9 1101.6,106.0 1102.1,106.3 1102.7,106.5 1103.2,106.7 1103.8,106.8 1104.4,106.7 1104.9,106.3 1105.5,105.8 1106.0,105.5 1106.6,105.7 1107.2,106.1 1107.7,106.2 1108.3,106.2 1108.8,106.0 1109.4,105.9 1110.0,105.9 1110.5,106.1 1111.1,106.4 1111.7,106.7 1112.2,106.8 1112.8,106.7 1113.3,106.8 1113.9,107.2 1114.5,107.7 1115.0,108.4 1115.6,108.9 1116.1,108.8 1116.7,108.6 1117.3,108.4 1117.8,108.4 1118.4,108.5 1118.9,108.7 1119.5,109.2 1120.1,109.7 1120.6,110.0 1121.2,110.2 1121.7,110.3 1122.3,110.7 1122.9,111.4 1123.4,112.0 1124.0,112.4 1124.6,112.6 1125.1,112.7 1125.7,112.9 1126.2,113.3 1126.8,113.6 1127.4,113.7 1127.9,114.0 1128.5,114.5 1129.0,114.7 1129.6,114.9 1130.2,115.0 1130.7,115.0 1131.3,115.0 1131.8,115.1 1132.4,115.3 1133.0,115.6 1133.5,116.1 1134.1,116.5 1134.6,116.8 1135.2,117.2 1135.8,117.9 1136.3,118.4 1136.9,118.4 1137.5,118.3 1138.0,118.6 1138.6,119.0 1139.1,119.1 1139.7,119.4 1140.3,120.2 1140.8,120.8 1141.4,120.8 1141.9,121.1 1142.5,121.5 1143.1,121.9 1143.6,122.2 1144.2,122.5 1144.7,123.0 1145.3,123.5 1145.9,123.7 1146.4,123.9 1147.0,124.3 1147.5,124.8 1148.1,125.3 1148.7,125.6 1149.2,125.8 1149.8,126.1 1150.3,126.5 1150.9,126.6 1151.5,126.6 1152.0,127.1 1152.6,127.7 1153.2,128.4 1153.7,128.9 1154.3,129.1 1154.8,129.5 1155.4,130.3 1156.0,130.9 1156.5,131.3 1157.1,131.4 1157.6,131.5 1158.2,132.0 1158.8,132.7 1159.3,133.1 1159.9,133.2 1160.4,133.3 1161.0,133.6 1161.6,134.2 1162.1,134.7 1162.7,134.8 1163.2,134.8 1163.8,135.2 1164.4,135.9 1164.9,136.2 1165.5,136.3 1166.1,136.4 1166.6,136.5 1167.2,136.6 1167.7,137.1 1168.3,137.8 1168.9,138.3 1169.4,138.8 1170.0,139.4 1170.5,139.7 1171.1,140.0 1171.7,140.5 1172.2,140.6 1172.8,140.6 1173.3,140.8 1173.9,140.9 1174.5,141.0 1175.0,141.2 1175.6,141.2 1176.1,141.3 1176.7,141.7 1177.3,142.0 1177.8,142.1 1178.4,142.3 1179.0,142.7 1179.5,143.1 1180.1,143.4 1180.6,143.5 1181.2,143.7 1181.8,143.9 1182.3,144.3 1182.9,144.7 1183.4,144.8 1184.0,145.0 1184.6,145.3 1185.1,145.4 1185.7,145.6 1186.2,145.9 1186.8,145.9 1187.4,145.6 1187.9,145.6 1188.5,145.9 1189.0,146.1 1189.6,146.5 1190.2,146.9 1190.7,147.3 1191.3,147.5 1191.9,147.9 1192.4,148.1 1193.0,148.4 1193.5,148.8 1194.1,149.3 1194.7,149.3 1195.2,149.1 1195.8,149.2 1196.3,149.4 1196.9,149.8 1197.5,150.0 1198.0,150.1 1198.6,150.3 1199.1,150.6 1199.7,150.6 1200.3,150.6 1200.8,150.5 1201.4,150.7 1201.9,151.2 1202.5,151.7 1203.1,151.6 1203.6,151.4 1204.2,151.5 1204.8,151.9 1205.3,152.3 1205.9,152.7 1206.4,153.1 1207.0,153.2 1207.6,153.2 1208.1,153.2 1208.7,152.9 1209.2,152.8 1209.8,152.9 1210.4,153.1 1210.9,153.1 1211.5,153.2 1212.0,153.5 1212.6,153.8 1213.2,153.9 1213.7,154.0 1214.3,154.2 1214.8,154.2 1215.4,154.1 1216.0,154.3 1216.5,154.6 1217.1,154.8 1217.7,154.8 1218.2,154.7 1218.8,154.8 1219.3,155.2 1219.9,155.5 1220.5,155.6 1221.0,155.9 1221.6,155.9 1222.1,155.7 1222.7,155.5 1223.3,155.1 1223.8,154.8 1224.4,155.0 1224.9,155.4 1225.5,155.6 1226.1,155.7 1226.6,155.6 1227.2,155.6 1227.7,155.7 1228.3,155.7 1228.9,155.8 1229.4,155.8 1230.0,155.7 1230.6,155.7 1231.1,156.0 1231.7,156.5 1232.2,156.8 1232.8,156.7 1233.4,156.4 1233.9,156.3 1234.5,156.4 1235.0,156.5 1235.6,156.7 1236.2,156.9 1236.7,157.0 1237.3,157.0 1237.8,157.3 1238.4,157.7 1239.0,157.8 1239.5,157.9 1240.1,157.9 1240.6,158.1 1241.2,158.2 1241.8,158.1 1242.3,158.1 1242.9,158.0 1243.4,157.7 1244.0,157.6 1244.6,157.7 1245.1,157.8 1245.7,157.9 1246.3,158.1 1246.8,158.2 1247.4,157.9 1247.9,157.7 1248.5,157.9 1249.1,158.2 1249.6,158.1 1250.2,157.9 1250.7,157.9 1251.3,158.2 1251.9,158.4 1252.4,158.4 1253.0,158.4 1253.5,158.6 1254.1,158.8 1254.7,158.8 1255.2,158.7 1255.8,158.9 1256.3,159.2 1256.9,158.9 1257.5,158.7 1258.0,158.7 1258.6,159.0 1259.2,159.5 1259.7,159.5 1260.3,159.1 1260.8,159.0 1261.4,159.5 1262.0,159.9 1262.5,159.9 1263.1,159.7 1263.6,159.3 1264.2,159.0 1264.8,158.8 1265.3,159.0 1265.9,159.5 1266.4,159.9 1267.0,160.1 1267.6,160.0 1268.1,159.8 1268.7,160.1 1269.2,160.3 1269.8,160.1 1270.4,159.8 1270.9,160.0 1271.5,160.1 1272.1,159.9 1272.6,159.9 1273.2,160.0 1273.7,159.9 1274.3,159.7 1274.9,159.6 1275.4,159.8 1276.0,160.1 1276.5,160.4 1277.1,160.6 1277.7,160.3 1278.2,160.1 1278.8,160.3 1279.3,160.7 1279.9,160.8 1280.5,160.6 1281.0,160.3 1281.6,160.2 1282.1,160.2 1282.7,159.9 1283.3,159.9 1283.8,160.2 1284.4,160.3 1285.0,160.1 1285.5,159.8 1286.1,159.8 1286.6,160.0 1287.2,160.2 1287.8,160.3 1288.3,160.2 1288.9,160.3 1289.4,160.2 1290.0,160.0" stroke="#0000ff" stroke-width="3.0"/>
<polyline points="785.8,161.5 786.4,161.8 786.9,162.1 787.5,162.3 788.0,162.4 788.6,162.3 789.2,162.2 789.7,162.1 790.3,162.1 790.8,162.1 791.4,162.2 792.0,162.4 792.5,162.6 793.1,162.7 793.7,162.6 794.2,162.4 794.8,162.1 795.3,161.9 795.9,161.9 796.5,162.1 797.0,162.2 797.6,162.3 798.1,162.3 798.7,162.3 799.3,162.4 799.8,162.4 800.4,162.4 800.9,162.4 801.5,162.5 802.1,162.4 802.6,162.1 803.2,161.7 803.7,161.6 804.3,161.7 804.9,161.9 805.4,162.0 806.0,162.1 806.6,162.2 807.1,162.4 807.7,162.5 808.2,162.5 808.8,162.6 809.4,162.5 809.9,162.2 810.5,161.9 811.0,161.7 811.6,161.7 812.2,161.9 812.7,162.2 813.3,162.4 813.8,162.5 814.4,162.4 815.0,162.1 815.5,161.7 816.1,161.5 816.6,161.5 817.2,161.6 817.8,161.7 818.3,161.7 818.9,161.7 819.5,161.8 820.0,162.0 820.6,162.1 821.1,162.2 821.7,162.2 822.3,162.2 822.8,162.3 823.4,162.5 823.9,162.7 824.5,162.9 825.1,163.0 825.6,163.1 826.2,163.1 826.7,162.9 827.3,162.8 827.9,162.7 828.4,162.5 829.0,162.4 829.5,162.4 830.1,162.5 830.7,162.5 831.2,162.4 831.8,162.3 832.4,162.3 832.9,162.5 833.5,162.7 834.0,162.7 834.6,162.7 835.2,162.7 835.7,162.8 836.3,162.7 836.8,162.4 837.4,162.1 838.0,161.9 838.5,161.9 839.1,162.0 839.6,162.2 840.2,162.3 840.8,162.4 841.3,162.6 841.9,162.7 842.4,162.7 843.0,162.5 843.6,162.4 844.1,162.4 844.7,162.3 845.2,162.4 845.8,162.4 846.4,162.3 846.9,161.8 847.5,161.4 848.1,161.3 848.6,161.6 849.2,162.0 849.7,162.2 850.3,162.2 850.9,162.1 851.4,162.1 852.0,162.1 852.5,162.3 853.1,162.6 853.7,162.8 854.2,162.7 854.8,162.2 855.3,161.9 855.9,161.7 856.5,161.6 857.0,161.7 857.6,162.0 858.1,162.1 858.7,162.0 859.3,161.8 859.8,161.7 860.4,161.8 861.0,162.0 861.5,162.3 862.1,162.5 862.6,162.6 863.2,162.5 863.8,162.3 864.3,162.0 864.9,161.8 865.4,162.0 866.0,162.4 866.6,162.7 867.1,162.7 867.7,162.6 868.2,162.4 868.8,162.2 869.4,162.3 869.9,162.4 870.5,162.5 871.0,162.4 871.6,162.4 872.2,162.4 872.7,162.5 873.3,162.6 873.9,162.7 874.4,162.8 875.0,162.9 875.5,162.9 876.1,162.8 876.7,162.6 877.2,162.3 877.8,161.9 878.3,161.7 878.9,161.7 879.5,161.8 880.0,161.9 880.6,161.9 881.1,161.9 881.7,162.0 882.3,162.2 882.8,162.5 883.4,162.8 883.9,163.0 884.5,162.9 885.1,162.7 885.6,162.6 886.2,162.5 886.8,162.4 887.3,162.3 887.9,162.3 888.4,162.3 889.0,162.4 889.6,162.3 890.1,162.2 890.7,162.1 891.2,162.0 891.8,162.0 892.4,162.0 892.9,161.9 893.5,161.8 894.0,161.9 894.6,162.0 895.2,162.2 895.7,162.4 896.3,162.5 896.8,162.7 897.4,162.9 898.0,162.9 898.5,162.6 899.1,162.4 899.7,162.3 900.2,162.2 900.8,162.2 901.3,162.2 901.9,162.2 902.5,162.1 903.0,162.1 903.6,162.1 904.1,162.2 904.7,162.3 905.3,162.2 905.8,162.0 906.4,161.9 906.9,161.9 907.5,162.0 908.1,162.1 908.6,162.2 909.2,162.4 909.7,162.5 910.3,162.5 910.9,162.5 911.4,162.4 912.0,162.2 912.6,162.1 913.1,162.2 913.7,162.6 914.2,163.0 914.8,163.2 915.4,163.1 915.9,162.9 916.5,162.6 917.0,162.6 917.6,162.7 918.2,162.8 918.7,162.6 919.3,162.5 919.8,162.4 920.4,162.5 921.0,162.6 921.5,162.6 922.1,162.5 922.6,162.3 923.2,162.1 923.8,161.9 924.3,161.8 924.9,161.8 925.5,161.9 926.0,161.9 926.6,162.1 927.1,162.2 927.7,162.2 928.3,162.0 928.8,161.8 929.4,161.8 929.9,161.9 930.5,162.2 931.1,162.5 931.6,162.8 932.2,163.0 932.7,162.9 933.3,162.8 933.9,162.7 934.4,162.6 935.0,162.7 935.5,162.6 936.1,162.6 936.7,162.7 937.2,162.7 937.8,162.7 938.3,162.4 938.9,162.2 939.5,162.2 940.0,162.4 940.6,162.3 941.2,162.1 941.7,161.9 942.3,161.6 942.8,161.3 943.4,161.2 944.0,161.4 944.5,161.8 945.1,162.1 945.6,162.3 946.2,162.2 946.8,162.1 947.3,161.8 947.9,161.7 948.4,161.7 949.0,161.7 949.6,161.8 950.1,161.9 950.7,161.9 951.2,162.0 951.8,162.2 952.4,162.2 952.9,162.1 953.5,162.0 954.1,162.2 954.6,162.3 955.2,162.4 955.7,162.3 956.3,162.2 956.9,162.0 957.4,161.9 958.0,162.0 958.5,162.3 959.1,162.5 959.7,162.7 960.2,162.7 960.8,162.7 961.3,162.5 961.9,162.3 962.5,162.0 963.0,161.8 963.6,161.8 964.1,161.9 964.7,162.0 965.3,162.0 965.8,162.1 966.4,162.2 967.0,162.2 967.5,162.3 968.1,162.6 968.6,162.8 969.2,162.9 969.8,162.8 970.3,162.8 970.9,162.7 971.4,162.5 972.0,162.4 972.6,162.4 973.1,162.5 973.7,162.5 974.2,162.5 974.8,162.3 975.4,162.2 975.9,162.0 976.5,162.0 977.0,162.0 977.6,162.1 978.2,162.2 978.7,162.3 979.3,162.3 979.9,162.3 980.4,162.3 981.0,162.3 981.5,162.4 982.1,162.4 982.7,162.4 983.2,162.4 983.8,162.4 984.3,162.4 984.9,162.4 985.5,162.2 986.0,162.1 986.6,162.1 987.1,162.1 987.7,162.3 988.3,162.6 988.8,162.9 989.4,163.0 989.9,162.9 990.5,162.8 991.1,162.8 991.6,162.9 992.2,162.9 992.8,162.8 993.3,162.7 993.9,162.8 994.4,162.7 995.0,162.6 995.6,162.3 996.1,162.1 996.7,162.1 997.2,162.0 997.8,162.0 998.4,162.0 998.9,162.2 999.5,162.5 1000.0,162.8 1000.6,163.0 1001.2,163.2 1001.7,163.4 1002.3,163.4 1002.8,163.1 1003.4,162.6 1004.0,162.0 1004.5,161.8 1005.1,162.0 1005.7,162.4 1006.2,162.6 1006.8,162.7 1007.3,162.6 1007.9,162.5 1008.5,162.2 1009.0,161.9 1009.6,162.0 1010.1,162.2 1010.7,162.3 1011.3,162.3 1011.8,162.4 1012.4,162.6 1012.9,162.8 1013.5,162.9 1014.1,162.9 1014.6,162.7 1015.2,162.3 1015.7,162.1 1016.3,162.1 1016.9,162.4 1017.4,162.5 1018.0,162.5 1018.6,162.3 1019.1,162.3 1019.7,162.3 1020.2,162.3 1020.8,162.5 1021.4,162.6 1021.9,162.5 1022.5,162.1 1023.0,162.0 1023.6,162.1 1024.2,162.3 1024.7,162.5 1025.3,162.4 1025.8,162.3 1026.4,162.2 1027.0,162.4 1027.5,162.7 1028.1,162.9 1028.6,162.9 1029.2,162.7 1029.8,162.5 1030.3,162.3 1030.9,162.1 1031.5,161.9 1032.0,161.9 1032.6,162.2 1033.1,162.4 1033.7,162.6 1034.3,162.8 1034.8,162.8 1035.4,162.7 1035.9,162.6 1036.5,162.5 1037.1,162.6 1037.6,162.7 1038.2,162.6 1038.7,162.3 1039.3,162.1 1039.9,161.9 1040.4,162.1 1041.0,162.4 1041.5,162.8 1042.1,162.9 1042.7,163.0 1043.2,163.0 1043.8,163.0 1044.3,162.8 1044.9,162.5 1045.5,162.3 1046.0,162.2 1046.6,162.3 1047.2,162.5 1047.7,162.6 1048.3,162.7 1048.8,162.7 1049.4,162.5 1050.0,162.3 1050.5,162.2 1051.1,162.3 1051.6,162.5 1052.2,162.7 1052.8,162.9 1053.3,162.8 1053.9,162.5 1054.4,162.2 1055.0,162.0 1055.6,162.0 1056.1,162.2 1056.7,162.5 1057.2,162.8 1057.8,163.0 1058.4,163.0 1058.9,162.9 1059.5,162.8 1060.1,162.7 1060.6,162.7 1061.2,162.7 1061.7,162.7 1062.3,162.9 1062.9,162.9 1063.4,162.7 1064.0,162.3 1064.5,162.1 1065.1,162.1 1065.7,162.4 1066.2,162.7 1066.8,163.0 1067.3,163.2 1067.9,163.2 1068.5,163.0 1069.0,162.9 1069.6,162.8 1070.1,162.8 1070.7,162.8 1071.3,162.8 1071.8,162.9 1072.4,163.0 1073.0,163.0 1073.5,163.0 1074.1,163.0 1074.6,163.0 1075.2,163.0 1075.8,162.9 1076.3,162.7 1076.9,162.4 1077.4,162.1 1078.0,161.9 1078.6,162.0 1079.1,162.0 1079.7,162.0 1080.2,162.0 1080.8,162.1 1081.4,162.3 1081.9,162.3 1082.5,162.3 1083.0,162.2 1083.6,162.0 1084.2,161.9 1084.7,162.0 1085.3,162.3 1085.9,162.6 1086.4,162.6 1087.0,162.4 1087.5,162.0 1088.1,161.8 1088.7,161.7 1089.2,161.8 1089.8,161.9 1090.3,162.1 1090.9,162.3 1091.5,162.3 1092.0,162.2 1092.6,161.9 1093.1,161.9 1093.7,162.2 1094.3,162.5 1094.8,162.7 1095.4,162.7 1095.9,162.7 1096.5,162.8 1097.1,162.8 1097.6,162.7 1098.2,162.5 1098.8,162.3 1099.3,162.0 1099.9,161.8 1100.4,161.8 1101.0,162.0 1101.6,162.2 1102.1,162.3 1102.7,162.4 1103.2,162.5 1103.8,162.5 1104.4,162.6 1104.9,162.7 1105.5,162.7 1106.0,162.4 1106.6,162.1 1107.2,162.1 1107.7,162.3 1108.3,162.5 1108.8,162.5 1109.4,162.4 1110.0,162.4 1110.5,162.5 1111.1,162.6 1111.7,162.6 1112.2,162.4 1112.8,162.0 1113.3,161.7 1113.9,161.7 1114.5,161.8 1115.0,162.2 1115.6,162.6 1116.1,162.7 1116.7,162.5 1117.3,162.3 1117.8,162.2 1118.4,162.4 1118.9,162.6 1119.5,162.6 1120.1,162.3 1120.6,161.9 1121.2,161.7 1121.7,161.6 1122.3,161.8 1122.9,162.0 1123.4,162.1 1124.0,162.2 1124.6,162.3 1125.1,162.3 1125.7,162.1 1126.2,162.0 1126.8,161.9 1127.4,162.1 1127.9,162.3 1128.5,162.4 1129.0,162.4 1129.6,162.3 1130.2,162.2 1130.7,162.2 1131.3,162.2 1131.8,162.3 1132.4,162.4 1133.0,162.4 1133.5,162.4 1134.1,162.3 1134.6,162.3 1135.2,162.4 1135.8,162.5 1136.3,162.5 1136.9,162.5 1137.5,162.3 1138.0,162.1 1138.6,161.9 1139.1,161.8 1139.7,161.8 1140.3,161.9 1140.8,161.9 1141.4,162.0 1141.9,162.1 1142.5,162.2 1143.1,162.3 1143.6,162.5 1144.2,162.6 1144.7,162.6 1145.3,162.6 1145.9,162.6 1146.4,162.6 1147.0,162.6 1147.5,162.5 1148.1,162.4 1148.7,162.3 1149.2,162.3 1149.8,162.5 1150.3,162.7 1150.9,162.8 1151.5,162.6 1152.0,162.5 1152.6,162.4 1153.2,162.3 1153.7,162.2 1154.3,162.3 1154.8,162.5 1155.4,162.8 1156.0,162.9 1156.5,162.9 1157.1,162.7 1157.6,162.4 1158.2,162.2 1158.8,162.2 1159.3,162.2 1159.9,162.2 1160.4,162.4 1161.0,162.6 1161.6,162.9 1162.1,163.0 1162.7,162.8 1163.2,162.7 1163.8,162.7 1164.4,162.7 1164.9,162.6 1165.5,162.5 1166.1,162.3 1166.6,162.2 1167.2,162.2 1167.7,162.2 1168.3,162.4 1168.9,162.5 1169.4,162.6 1170.0,162.7 1170.5,162.7 1171.1,162.6 1171.7,162.4 1172.2,162.4 1172.8,162.4 1173.3,162.4 1173.9,162.4 1174.5,162.2 1175.0,162.0 1175.6,161.9 1176.1,161.9 1176.7,161.8 1177.3,161.7 1177.8,161.6 1178.4,161.8 1179.0,162.0 1179.5,162.1 1180.1,162.0 1180.6,161.8 1181.2,161.8 1181.8,162.0 1182.3,162.3 1182.9,162.5 1183.4,162.5 1184.0,162.4 1184.6,162.4 1185.1,162.5 1185.7,162.7 1186.2,162.8 1186.8,162.7 1187.4,162.5 1187.9,162.3 1188.5,162.2 1189.0,162.2 1189.6,162.1 1190.2,162.0 1190.7,162.1 1191.3,162.3 1191.9,162.3 1192.4,162.2 1193.0,162.2 1193.5,162.2 1194.1,162.2 1194.7,162.2 1195.2,162.4 1195.8,162.4 1196.3,162.3 1196.9,162.3 1197.5,162.4 1198.0,162.5 1198.6,162.3 1199.1,162.2 1199.7,162.3 1200.3,162.5 1200.8,162.6 1201.4,162.5 1201.9,162.4 1202.5,162.5 1203.1,162.6 1203.6,162.5 1204.2,162.2 1204.8,162.2 1205.3,162.2 1205.9,162.2 1206.4,162.1 1207.0,162.1 1207.6,162.1 1208.1,162.1 1208.7,162.1 1209.2,162.1 1209.8,162.1 1210.4,162.1 1210.9,162.1 1211.5,162.2 1212.0,162.5 1212.6,162.6 1213.2,162.7 1213.7,162.7 1214.3,162.7 1214.8,162.8 1215.4,163.0 1216.0,163.1 1216.5,163.2 1217.1,163.0 1217.7,162.8 1218.2,162.6 1218.8,162.5 1219.3,162.4 1219.9,162.1 1220.5,161.8 1221.0,161.8 1221.6,162.1 1222.1,162.4 1222.7,162.5 1223.3,162.4 1223.8,162.4 1224.4,162.4 1224.9,162.4 1225.5,162.2 1226.1,161.9 1226.6,161.6 1227.2,161.4 1227.7,161.4 1228.3,161.7 1228.9,162.1 1229.4,162.4 1230.0,162.5 1230.6,162.5 1231.1,162.4 1231.7,162.4 1232.2,162.4 1232.8,162.4 1233.4,162.3 1233.9,162.2 1234.5,162.2 1235.0,162.3 1235.6,162.6 1236.2,162.7 1236.7,162.7 1237.3,162.4 1237.8,161.9 1238.4,161.7 1239.0,161.6 1239.5,161.7 1240.1,161.8 1240.6,162.0 1241.2,162.1 1241.8,162.1 1242.3,162.0 1242.9,162.0 1243.4,162.0 1244.0,162.2 1244.6,162.4 1245.1,162.6 1245.7,162.7 1246.3,162.5 1246.8,162.2 1247.4,162.1 1247.9,162.1 1248.5,162.2 1249.1,162.3 1249.6,162.5 1250.2,162.6 1250.7,162.4 1251.3,162.0 1251.9,161.8 1252.4,162.0 1253.0,162.3 1253.5,162.5 1254.1,162.4 1254.7,162.1 1255.2,162.0 1255.8,162.0 1256.3,162.1 1256.9,162.2 1257.5,162.3 1258.0,162.3 1258.6,162.1 1259.2,161.8 1259.7,161.7 1260.3,161.8 1260.8,162.0 1261.4,162.1 1262.0,162.1 1262.5,162.2 1263.1,162.3 1263.6,162.3 1264.2,162.2 1264.8,162.0 1265.3,161.9 1265.9,161.9 1266.4,161.8 1267.0,161.9 1267.6,162.2 1268.1,162.6 1268.7,162.7 1269.2,162.7 1269.8,162.4 1270.4,162.1 1270.9,162.1 1271.5,162.3 1272.1,162.6 1272.6,162.8 1273.2,162.8 1273.7,162.7 1274.3,162.5 1274.9,162.5 1275.4,162.5 1276.0,162.6 1276.5,162.6 1277.1,162.5 1277.7,162.3 1278.2,162.1 1278.8,162.0 1279.3,162.0 1279.9,162.0 1280.5,162.1 1281.0,162.3 1281.6,162.5 1282.1,162.4 1282.7,162.3 1283.3,162.4 1283.8,162.6 1284.4,162.6 1285.0,162.6 1285.5,162.7 1286.1,162.9 1286.6,162.9 1287.2,162.8 1287.8,162.5 1288.3,162.4 1288.9,162.5 1289.4,162.7 1290.0,162.8" stroke="#00cc00" stroke-width="3.2"/>
</g>
<g clip-path="url(#cc)" fill="none" stroke-linejoin="round">
<path d="M785.8 425.8H1290.0" stroke="#808080" stroke-width="2.3" stroke-dasharray="8.6,4.7"/>
<polyline points="785.8,424.2 786.4,424.3 786.9,424.3 787.5,424.4 788.0,424.5 788.6,424.5 789.2,424.4 789.7,424.4 790.3,424.5 790.8,424.7 791.4,424.8 792.0,425.0 792.5,424.9 793.1,424.7 793.7,424.5 794.2,424.3 794.8,424.3 795.3,424.4 795.9,424.6 796.5,424.6 797.0,424.6 797.6,424.5 798.1,424.4 798.7,424.3 799.3,424.2 799.8,424.2 800.4,424.2 800.9,424.2 801.5,424.3 802.1,424.3 802.6,424.3 803.2,424.4 803.7,424.4 804.3,424.3 804.9,424.2 805.4,423.9 806.0,423.7 806.6,423.4 807.1,423.3 807.7,423.3 808.2,423.3 808.8,423.3 809.4,423.2 809.9,423.0 810.5,422.9 811.0,422.8 811.6,422.7 812.2,422.7 812.7,422.6 813.3,422.4 813.8,422.2 814.4,421.8 815.0,421.4 815.5,420.9 816.1,420.6 816.6,420.3 817.2,420.0 817.8,419.7 818.3,419.4 818.9,419.1 819.5,418.7 820.0,418.2 820.6,417.7 821.1,417.2 821.7,416.7 822.3,416.2 822.8,415.7 823.4,415.2 823.9,414.5 824.5,413.7 825.1,412.8 825.6,412.0 826.2,411.2 826.7,410.6 827.3,410.0 827.9,409.4 828.4,408.8 829.0,408.1 829.5,407.4 830.1,406.7 830.7,406.0 831.2,405.4 831.8,404.8 832.4,404.3 832.9,403.7 833.5,403.0 834.0,402.3 834.6,401.4 835.2,400.6 835.7,399.8 836.3,399.2 836.8,398.5 837.4,397.9 838.0,397.2 838.5,396.5 839.1,395.8 839.6,395.3 840.2,394.7 840.8,394.2 841.3,393.6 841.9,393.0 842.4,392.5 843.0,391.9 843.6,391.3 844.1,390.8 844.7,390.4 845.2,389.9 845.8,389.5 846.4,389.0 846.9,388.5 847.5,388.0 848.1,387.5 848.6,387.1 849.2,386.7 849.7,386.3 850.3,386.0 850.9,385.8 851.4,385.5 852.0,385.3 852.5,384.9 853.1,384.6 853.7,384.3 854.2,384.1 854.8,383.9 855.3,383.7 855.9,383.5 856.5,383.3 857.0,383.0 857.6,382.8 858.1,382.5 858.7,382.3 859.3,382.2 859.8,382.1 860.4,382.0 861.0,381.9 861.5,381.9 862.1,381.9 862.6,381.9 863.2,381.8 863.8,381.7 864.3,381.7 864.9,381.7 865.4,381.8 866.0,382.0 866.6,382.0 867.1,382.1 867.7,382.1 868.2,382.1 868.8,382.1 869.4,382.2 869.9,382.3 870.5,382.4 871.0,382.4 871.6,382.5 872.2,382.7 872.7,383.0 873.3,383.3 873.9,383.5 874.4,383.5 875.0,383.4 875.5,383.3 876.1,383.2 876.7,383.2 877.2,383.3 877.8,383.5 878.3,383.7 878.9,383.9 879.5,384.0 880.0,384.0 880.6,384.0 881.1,384.1 881.7,384.2 882.3,384.5 882.8,384.7 883.4,384.9 883.9,385.0 884.5,385.0 885.1,385.1 885.6,385.3 886.2,385.5 886.8,385.8 887.3,385.9 887.9,386.1 888.4,386.2 889.0,386.2 889.6,386.3 890.1,386.3 890.7,386.3 891.2,386.5 891.8,386.6 892.4,386.7 892.9,386.9 893.5,387.1 894.0,387.2 894.6,387.2 895.2,387.3 895.7,387.3 896.3,387.3 896.8,387.2 897.4,387.2 898.0,387.1 898.5,387.0 899.1,387.0 899.7,387.0 900.2,387.1 900.8,387.3 901.3,387.5 901.9,387.7 902.5,387.8 903.0,387.8 903.6,387.7 904.1,387.7 904.7,387.7 905.3,387.8 905.8,388.0 906.4,388.1 906.9,388.2 907.5,388.2 908.1,388.1 908.6,388.0 909.2,388.0 909.7,387.9 910.3,387.9 910.9,387.9 911.4,387.9 912.0,388.0 912.6,388.0 913.1,387.9 913.7,387.9 914.2,387.8 914.8,387.8 915.4,387.7 915.9,387.6 916.5,387.6 917.0,387.7 917.6,387.8 918.2,387.8 918.7,387.9 919.3,387.9 919.8,387.9 920.4,387.9 921.0,388.0 921.5,388.0 922.1,388.1 922.6,388.1 923.2,388.0 923.8,387.9 924.3,387.7 924.9,387.6 925.5,387.6 926.0,387.6 926.6,387.7 927.1,387.8 927.7,387.9 928.3,388.0 928.8,388.1 929.4,388.1 929.9,388.2 930.5,388.2 931.1,388.2 931.6,388.2 932.2,388.3 932.7,388.3 933.3,388.3 933.9,388.3 934.4,388.3 935.0,388.3 935.5,388.5 936.1,388.7 936.7,388.8 937.2,388.9 937.8,389.0 938.3,389.1 938.9,389.2 939.5,389.4 940.0,389.6 940.6,389.8 941.2,390.1 941.7,390.5 942.3,390.8 942.8,391.2 943.4,391.6 944.0,392.0 944.5,392.4 945.1,392.7 945.6,393.0 946.2,393.3 946.8,393.7 947.3,394.1 947.9,394.6 948.4,395.0 949.0,395.4 949.6,395.8 950.1,396.3 950.7,396.9 951.2,397.6 951.8,398.3 952.4,399.0 952.9,399.7 953.5,400.3 954.1,400.9 954.6,401.6 955.2,402.1 955.7,402.8 956.3,403.5 956.9,404.3 957.4,405.2 958.0,406.1 958.5,406.9 959.1,407.7 959.7,408.5 960.2,409.5 960.8,410.6 961.3,411.7 961.9,412.9 962.5,414.0 963.0,415.2 963.6,416.3 964.1,417.4 964.7,418.6 965.3,419.7 965.8,420.9 966.4,422.2 967.0,423.6 967.5,425.0 968.1,426.5 968.6,428.1 969.2,429.6 969.8,431.1 970.3,432.6 970.9,434.1 971.4,435.5 972.0,437.0 972.6,438.6 973.1,440.3 973.7,442.0 974.2,443.6 974.8,445.2 975.4,446.9 975.9,448.5 976.5,450.2 977.0,452.0 977.6,453.8 978.2,455.6 978.7,457.5 979.3,459.4 979.9,461.3 980.4,463.2 981.0,465.0 981.5,466.7 982.1,468.4 982.7,470.0 983.2,471.6 983.8,473.1 984.3,474.4 984.9,475.5 985.5,476.7 986.0,478.0 986.6,479.4 987.1,480.9 987.7,482.5 988.3,484.0 988.8,485.4 989.4,486.7 989.9,488.0 990.5,489.2 991.1,490.3 991.6,491.4 992.2,492.4 992.8,493.4 993.3,494.4 993.9,495.4 994.4,496.5 995.0,497.6 995.6,498.7 996.1,499.7 996.7,500.7 997.2,501.6 997.8,502.4 998.4,503.3 998.9,504.2 999.5,505.2 1000.0,506.0 1000.6,506.8 1001.2,507.5 1001.7,508.1 1002.3,508.8 1002.8,509.4 1003.4,510.0 1004.0,510.6 1004.5,511.2 1005.1,511.7 1005.7,512.1 1006.2,512.4 1006.8,512.7 1007.3,512.9 1007.9,513.1 1008.5,513.3 1009.0,513.7 1009.6,514.1 1010.1,514.5 1010.7,514.9 1011.3,515.1 1011.8,515.3 1012.4,515.4 1012.9,515.5 1013.5,515.5 1014.1,515.5 1014.6,515.4 1015.2,515.2 1015.7,515.0 1016.3,514.9 1016.9,514.7 1017.4,514.6 1018.0,514.5 1018.6,514.3 1019.1,514.0 1019.7,513.6 1020.2,513.2 1020.8,512.7 1021.4,512.2 1021.9,511.6 1022.5,510.9 1023.0,510.2 1023.6,509.4 1024.2,508.7 1024.7,508.0 1025.3,507.2 1025.8,506.4 1026.4,505.4 1027.0,504.4 1027.5,503.4 1028.1,502.3 1028.6,501.2 1029.2,500.0 1029.8,498.8 1030.3,497.5 1030.9,496.1 1031.5,494.8 1032.0,493.5 1032.6,492.1 1033.1,490.8 1033.7,489.4 1034.3,487.9 1034.8,486.4 1035.4,484.9 1035.9,483.4 1036.5,482.0 1037.1,480.7 1037.6,479.3 1038.2,477.9 1038.7,476.4 1039.3,474.7 1039.9,473.0 1040.4,471.4 1041.0,469.9 1041.5,468.4 1042.1,466.9 1042.7,465.4 1043.2,463.9 1043.8,462.5 1044.3,461.0 1044.9,459.6 1045.5,458.0 1046.0,456.4 1046.6,454.8 1047.2,453.3 1047.7,452.0 1048.3,450.6 1048.8,449.3 1049.4,448.0 1050.0,446.6 1050.5,445.2 1051.1,443.9 1051.6,442.6 1052.2,441.5 1052.8,440.4 1053.3,439.3 1053.9,438.2 1054.4,437.1 1055.0,435.9 1055.6,434.8 1056.1,433.8 1056.7,432.7 1057.2,431.6 1057.8,430.5 1058.4,429.4 1058.9,428.3 1059.5,427.2 1060.1,426.2 1060.6,425.1 1061.2,424.1 1061.7,423.0 1062.3,421.9 1062.9,420.8 1063.4,419.5 1064.0,418.3 1064.5,417.1 1065.1,415.9 1065.7,414.7 1066.2,413.5 1066.8,412.2 1067.3,410.9 1067.9,409.5 1068.5,408.2 1069.0,407.0 1069.6,405.8 1070.1,404.7 1070.7,403.5 1071.3,402.3 1071.8,401.1 1072.4,399.8 1073.0,398.6 1073.5,397.5 1074.1,396.4 1074.6,395.5 1075.2,394.5 1075.8,393.6 1076.3,392.6 1076.9,391.7 1077.4,390.8 1078.0,389.9 1078.6,389.0 1079.1,388.2 1079.7,387.5 1080.2,386.7 1080.8,386.0 1081.4,385.3 1081.9,384.6 1082.5,384.0 1083.0,383.4 1083.6,382.8 1084.2,382.2 1084.7,381.6 1085.3,381.0 1085.9,380.4 1086.4,379.8 1087.0,379.3 1087.5,378.7 1088.1,378.2 1088.7,377.8 1089.2,377.4 1089.8,377.1 1090.3,376.7 1090.9,376.3 1091.5,376.0 1092.0,375.7 1092.6,375.5 1093.1,375.2 1093.7,374.9 1094.3,374.5 1094.8,374.1 1095.4,373.7 1095.9,373.5 1096.5,373.4 1097.1,373.3 1097.6,373.1 1098.2,372.9 1098.8,372.7 1099.3,372.6 1099.9,372.4 1100.4,372.3 1101.0,372.1 1101.6,372.1 1102.1,372.0 1102.7,372.0 1103.2,371.9 1103.8,371.8 1104.4,371.7 1104.9,371.7 1105.5,371.8 1106.0,372.0 1106.6,372.1 1107.2,372.2 1107.7,372.3 1108.3,372.3 1108.8,372.3 1109.4,372.4 1110.0,372.6 1110.5,372.7 1111.1,372.7 1111.7,372.7 1112.2,372.6 1112.8,372.6 1113.3,372.7 1113.9,372.8 1114.5,373.0 1115.0,373.2 1115.6,373.3 1116.1,373.5 1116.7,373.6 1117.3,373.7 1117.8,373.9 1118.4,374.0 1118.9,374.3 1119.5,374.5 1120.1,374.9 1120.6,375.2 1121.2,375.4 1121.7,375.6 1122.3,375.9 1122.9,376.1 1123.4,376.5 1124.0,376.8 1124.6,377.3 1125.1,377.6 1125.7,378.0 1126.2,378.2 1126.8,378.4 1127.4,378.6 1127.9,378.9 1128.5,379.2 1129.0,379.5 1129.6,379.9 1130.2,380.3 1130.7,380.6 1131.3,380.9 1131.8,381.2 1132.4,381.6 1133.0,381.9 1133.5,382.2 1134.1,382.4 1134.6,382.7 1135.2,383.0 1135.8,383.3 1136.3,383.7 1136.9,384.1 1137.5,384.6 1138.0,385.1 1138.6,385.6 1139.1,386.2 1139.7,386.7 1140.3,387.1 1140.8,387.4 1141.4,387.6 1141.9,387.8 1142.5,388.0 1143.1,388.3 1143.6,388.5 1144.2,388.6 1144.7,388.8 1145.3,389.1 1145.9,389.4 1146.4,389.8 1147.0,390.2 1147.5,390.6 1148.1,391.1 1148.7,391.5 1149.2,391.9 1149.8,392.2 1150.3,392.6 1150.9,393.0 1151.5,393.5 1152.0,394.0 1152.6,394.5 1153.2,394.9 1153.7,395.3 1154.3,395.7 1154.8,396.0 1155.4,396.2 1156.0,396.4 1156.5,396.7 1157.1,396.9 1157.6,397.2 1158.2,397.4 1158.8,397.7 1159.3,397.9 1159.9,398.3 1160.4,398.7 1161.0,399.3 1161.6,399.9 1162.1,400.5 1162.7,400.9 1163.2,401.3 1163.8,401.6 1164.4,401.9 1164.9,402.1 1165.5,402.3 1166.1,402.4 1166.6,402.6 1167.2,402.8 1167.7,403.1 1168.3,403.5 1168.9,403.9 1169.4,404.4 1170.0,404.8 1170.5,405.2 1171.1,405.4 1171.7,405.7 1172.2,405.9 1172.8,406.1 1173.3,406.3 1173.9,406.5 1174.5,406.7 1175.0,406.9 1175.6,407.3 1176.1,407.7 1176.7,408.1 1177.3,408.5 1177.8,408.8 1178.4,409.0 1179.0,409.2 1179.5,409.4 1180.1,409.6 1180.6,409.8 1181.2,410.2 1181.8,410.5 1182.3,410.8 1182.9,410.9 1183.4,411.0 1184.0,411.2 1184.6,411.4 1185.1,411.7 1185.7,411.9 1186.2,412.1 1186.8,412.3 1187.4,412.5 1187.9,412.8 1188.5,413.1 1189.0,413.3 1189.6,413.6 1190.2,413.9 1190.7,414.1 1191.3,414.2 1191.9,414.3 1192.4,414.3 1193.0,414.3 1193.5,414.4 1194.1,414.5 1194.7,414.7 1195.2,414.9 1195.8,415.1 1196.3,415.2 1196.9,415.2 1197.5,415.2 1198.0,415.3 1198.6,415.5 1199.1,415.7 1199.7,416.0 1200.3,416.2 1200.8,416.4 1201.4,416.5 1201.9,416.6 1202.5,416.7 1203.1,416.9 1203.6,417.1 1204.2,417.3 1204.8,417.5 1205.3,417.7 1205.9,417.8 1206.4,417.8 1207.0,417.8 1207.6,417.8 1208.1,417.9 1208.7,418.1 1209.2,418.2 1209.8,418.4 1210.4,418.5 1210.9,418.6 1211.5,418.7 1212.0,418.8 1212.6,419.1 1213.2,419.3 1213.7,419.5 1214.3,419.6 1214.8,419.8 1215.4,419.9 1216.0,420.1 1216.5,420.1 1217.1,420.1 1217.7,420.2 1218.2,420.2 1218.8,420.2 1219.3,420.4 1219.9,420.5 1220.5,420.7 1221.0,420.8 1221.6,420.9 1222.1,421.0 1222.7,421.1 1223.3,421.1 1223.8,421.1 1224.4,421.1 1224.9,421.2 1225.5,421.3 1226.1,421.4 1226.6,421.4 1227.2,421.5 1227.7,421.5 1228.3,421.5 1228.9,421.4 1229.4,421.4 1230.0,421.4 1230.6,421.4 1231.1,421.6 1231.7,421.9 1232.2,422.1 1232.8,422.2 1233.4,422.1 1233.9,422.1 1234.5,422.0 1235.0,422.0 1235.6,422.0 1236.2,422.0 1236.7,422.0 1237.3,422.0 1237.8,422.0 1238.4,421.9 1239.0,421.9 1239.5,422.0 1240.1,422.1 1240.6,422.1 1241.2,422.1 1241.8,422.0 1242.3,421.8 1242.9,421.8 1243.4,421.7 1244.0,421.8 1244.6,421.8 1245.1,421.8 1245.7,421.9 1246.3,421.9 1246.8,422.0 1247.4,422.1 1247.9,422.3 1248.5,422.3 1249.1,422.3 1249.6,422.2 1250.2,422.1 1250.7,422.1 1251.3,422.1 1251.9,422.1 1252.4,422.1 1253.0,422.0 1253.5,421.9 1254.1,421.9 1254.7,422.0 1255.2,422.2 1255.8,422.3 1256.3,422.5 1256.9,422.6 1257.5,422.7 1258.0,422.8 1258.6,422.8 1259.2,422.9 1259.7,423.0 1260.3,423.0 1260.8,422.9 1261.4,422.8 1262.0,422.7 1262.5,422.7 1263.1,422.8 1263.6,422.8 1264.2,423.0 1264.8,423.0 1265.3,423.0 1265.9,423.0 1266.4,422.9 1267.0,422.8 1267.6,422.8 1268.1,422.9 1268.7,422.9 1269.2,423.0 1269.8,423.0 1270.4,423.0 1270.9,423.0 1271.5,423.0 1272.1,423.0 1272.6,422.9 1273.2,422.9 1273.7,422.9 1274.3,423.0 1274.9,423.2 1275.4,423.3 1276.0,423.5 1276.5,423.5 1277.1,423.4 1277.7,423.2 1278.2,423.2 1278.8,423.3 1279.3,423.4 1279.9,423.6 1280.5,423.6 1281.0,423.7 1281.6,423.6 1282.1,423.4 1282.7,423.2 1283.3,423.1 1283.8,423.0 1284.4,423.2 1285.0,423.4 1285.5,423.6 1286.1,423.7 1286.6,423.7 1287.2,423.6 1287.8,423.6 1288.3,423.6 1288.9,423.6 1289.4,423.7 1290.0,423.7" stroke="#ff0000" stroke-width="3.0"/>
<polyline points="785.8,425.5 786.4,425.4 786.9,425.6 787.5,425.6 788.0,425.3 788.6,425.1 789.2,425.1 789.7,425.3 790.3,425.3 790.8,425.3 791.4,425.5 792.0,425.6 792.5,425.4 793.1,425.3 793.7,425.5 794.2,425.4 794.8,425.0 795.3,424.9 795.9,425.1 796.5,425.5 797.0,425.9 797.6,425.9 798.1,425.9 798.7,426.2 799.3,426.8 799.8,426.9 800.4,426.4 800.9,425.7 801.5,425.6 802.1,426.0 802.6,426.1 803.2,425.9 803.7,425.8 804.3,425.8 804.9,426.0 805.4,426.2 806.0,426.1 806.6,426.0 807.1,426.0 807.7,426.1 808.2,426.5 808.8,426.8 809.4,426.8 809.9,426.5 810.5,425.8 811.0,425.4 811.6,425.7 812.2,426.0 812.7,425.9 813.3,425.7 813.8,425.5 814.4,425.9 815.0,426.7 815.5,427.0 816.1,426.7 816.6,426.8 817.2,427.4 817.8,428.0 818.3,428.6 818.9,428.6 819.5,428.8 820.0,429.7 820.6,430.3 821.1,430.4 821.7,431.0 822.3,431.8 822.8,432.2 823.4,431.8 823.9,431.9 824.5,433.6 825.1,436.0 825.6,437.8 826.2,438.2 826.7,437.6 827.3,436.8 827.9,436.7 828.4,437.0 829.0,437.2 829.5,437.2 830.1,437.7 830.7,439.9 831.2,443.0 831.8,445.2 832.4,445.1 832.9,444.2 833.5,443.6 834.0,443.1 834.6,443.0 835.2,444.4 835.7,446.6 836.3,447.4 836.8,447.1 837.4,448.2 838.0,449.8 838.5,450.4 839.1,450.0 839.6,449.6 840.2,450.1 840.8,451.5 841.3,452.2 841.9,451.9 842.4,452.4 843.0,453.7 843.6,454.7 844.1,455.8 844.7,457.0 845.2,458.2 845.8,459.1 846.4,458.8 846.9,457.7 847.5,456.7 848.1,457.2 848.6,459.2 849.2,461.3 849.7,462.6 850.3,462.5 850.9,461.5 851.4,460.9 852.0,460.8 852.5,460.4 853.1,459.8 853.7,459.8 854.2,460.4 854.8,460.5 855.3,460.5 855.9,460.9 856.5,461.5 857.0,461.8 857.6,461.6 858.1,461.3 858.7,462.1 859.3,463.1 859.8,463.0 860.4,462.4 861.0,461.6 861.5,461.4 862.1,462.6 862.6,463.5 863.2,463.4 863.8,463.3 864.3,462.9 864.9,462.7 865.4,463.4 866.0,464.6 866.6,465.2 867.1,464.6 867.7,464.5 868.2,463.7 868.8,461.8 869.4,461.4 869.9,462.7 870.5,463.7 871.0,464.4 871.6,464.3 872.2,462.6 872.7,460.4 873.3,459.6 873.9,460.6 874.4,461.7 875.0,462.3 875.5,462.3 876.1,462.6 876.7,464.0 877.2,464.5 877.8,463.0 878.3,461.2 878.9,460.4 879.5,460.2 880.0,460.1 880.6,460.3 881.1,461.2 881.7,461.7 882.3,461.6 882.8,461.6 883.4,461.5 883.9,459.8 884.5,457.9 885.1,458.4 885.6,460.1 886.2,460.9 886.8,460.4 887.3,459.7 887.9,459.7 888.4,459.9 889.0,459.5 889.6,458.9 890.1,459.0 890.7,459.3 891.2,458.6 891.8,458.2 892.4,458.9 892.9,459.5 893.5,460.2 894.0,461.1 894.6,461.6 895.2,461.0 895.7,459.4 896.3,458.5 896.8,459.0 897.4,460.4 898.0,461.1 898.5,460.3 899.1,458.4 899.7,457.7 900.2,458.7 900.8,459.2 901.3,458.8 901.9,458.8 902.5,458.8 903.0,458.0 903.6,457.3 904.1,457.5 904.7,457.6 905.3,458.3 905.8,459.4 906.4,459.0 906.9,457.0 907.5,456.0 908.1,456.9 908.6,457.8 909.2,457.2 909.7,456.1 910.3,455.8 910.9,456.6 911.4,458.3 912.0,459.8 912.6,459.8 913.1,459.1 913.7,459.1 914.2,459.3 914.8,459.3 915.4,460.2 915.9,461.4 916.5,461.3 917.0,460.4 917.6,459.2 918.2,458.1 918.7,457.8 919.3,459.3 919.8,461.6 920.4,462.9 921.0,462.3 921.5,460.8 922.1,459.3 922.6,458.5 923.2,458.6 923.8,458.8 924.3,458.7 924.9,458.2 925.5,456.7 926.0,455.2 926.6,454.8 927.1,455.0 927.7,456.4 928.3,458.1 928.8,458.9 929.4,459.4 929.9,460.2 930.5,460.0 931.1,459.5 931.6,459.5 932.2,459.1 932.7,458.3 933.3,457.2 933.9,456.0 934.4,456.0 935.0,457.0 935.5,457.5 936.1,457.4 936.7,457.9 937.2,459.0 937.8,459.7 938.3,459.4 938.9,458.4 939.5,456.9 940.0,456.1 940.6,455.9 941.2,455.7 941.7,456.0 942.3,456.4 942.8,455.4 943.4,454.8 944.0,455.7 944.5,456.6 945.1,456.1 945.6,454.9 946.2,453.3 946.8,452.0 947.3,451.8 947.9,452.6 948.4,452.9 949.0,452.3 949.6,451.5 950.1,450.4 950.7,450.1 951.2,450.4 951.8,449.9 952.4,448.2 952.9,446.6 953.5,446.4 954.1,447.1 954.6,447.7 955.2,446.4 955.7,444.1 956.3,442.3 956.9,441.2 957.4,441.0 958.0,441.3 958.5,440.8 959.1,439.6 959.7,438.3 960.2,437.6 960.8,436.7 961.3,434.7 961.9,433.0 962.5,432.4 963.0,431.6 963.6,431.1 964.1,430.6 964.7,429.6 965.3,428.6 965.8,427.9 966.4,427.4 967.0,426.1 967.5,423.9 968.1,422.0 968.6,420.8 969.2,420.0 969.8,418.9 970.3,417.2 970.9,415.6 971.4,413.8 972.0,412.2 972.6,411.5 973.1,411.1 973.7,409.9 974.2,408.1 974.8,406.4 975.4,404.8 975.9,403.2 976.5,402.3 977.0,401.3 977.6,399.7 978.2,397.9 978.7,396.2 979.3,394.6 979.9,393.2 980.4,391.9 981.0,390.3 981.5,388.5 982.1,386.8 982.7,385.3 983.2,384.0 983.8,382.6 984.3,380.7 984.9,378.3 985.5,376.4 986.0,375.3 986.6,373.9 987.1,371.7 987.7,369.8 988.3,368.6 988.8,367.5 989.4,366.1 989.9,364.8 990.5,363.8 991.1,362.6 991.6,361.1 992.2,359.5 992.8,358.4 993.3,357.5 993.9,356.1 994.4,354.2 995.0,352.5 995.6,351.3 996.1,350.5 996.7,349.6 997.2,348.8 997.8,347.8 998.4,346.8 998.9,345.8 999.5,344.6 1000.0,343.4 1000.6,342.8 1001.2,342.1 1001.7,340.9 1002.3,340.0 1002.8,339.4 1003.4,338.5 1004.0,337.5 1004.5,336.9 1005.1,337.0 1005.7,337.1 1006.2,336.7 1006.8,336.1 1007.3,335.4 1007.9,334.7 1008.5,334.3 1009.0,334.1 1009.6,334.2 1010.1,334.3 1010.7,334.1 1011.3,333.8 1011.8,333.6 1012.4,333.2 1012.9,332.9 1013.5,332.7 1014.1,332.8 1014.6,333.2 1015.2,333.6 1015.7,333.9 1016.3,334.0 1016.9,334.0 1017.4,334.0 1018.0,334.0 1018.6,334.3 1019.1,334.7 1019.7,335.1 1020.2,335.5 1020.8,335.7 1021.4,335.7 1021.9,336.1 1022.5,337.1 1023.0,338.2 1023.6,339.1 1024.2,340.0 1024.7,340.7 1025.3,341.0 1025.8,341.2 1026.4,341.5 1027.0,342.2 1027.5,343.3 1028.1,344.5 1028.6,345.5 1029.2,346.4 1029.8,347.4 1030.3,348.5 1030.9,349.6 1031.5,350.5 1032.0,351.3 1032.6,352.1 1033.1,353.2 1033.7,354.6 1034.3,355.9 1034.8,357.1 1035.4,358.6 1035.9,360.0 1036.5,361.0 1037.1,362.0 1037.6,363.2 1038.2,364.6 1038.7,366.4 1039.3,368.4 1039.9,369.9 1040.4,371.0 1041.0,372.3 1041.5,373.6 1042.1,374.9 1042.7,376.1 1043.2,377.4 1043.8,379.0 1044.3,380.7 1044.9,382.1 1045.5,383.2 1046.0,384.6 1046.6,386.8 1047.2,389.0 1047.7,390.1 1048.3,390.9 1048.8,392.0 1049.4,393.4 1050.0,395.1 1050.5,396.8 1051.1,398.6 1051.6,400.3 1052.2,401.7 1052.8,402.7 1053.3,404.0 1053.9,405.5 1054.4,406.9 1055.0,408.8 1055.6,410.8 1056.1,412.5 1056.7,414.2 1057.2,416.3 1057.8,418.3 1058.4,419.7 1058.9,420.8 1059.5,421.9 1060.1,423.3 1060.6,425.1 1061.2,427.1 1061.7,429.1 1062.3,430.9 1062.9,432.1 1063.4,433.2 1064.0,434.2 1064.5,434.9 1065.1,435.9 1065.7,437.4 1066.2,439.1 1066.8,440.7 1067.3,442.3 1067.9,444.0 1068.5,445.2 1069.0,445.9 1069.6,446.5 1070.1,447.4 1070.7,448.2 1071.3,448.9 1071.8,449.8 1072.4,450.9 1073.0,451.9 1073.5,452.8 1074.1,453.2 1074.6,453.4 1075.2,453.8 1075.8,454.4 1076.3,455.2 1076.9,456.1 1077.4,457.1 1078.0,458.0 1078.6,458.7 1079.1,459.1 1079.7,459.9 1080.2,461.1 1080.8,462.3 1081.4,463.2 1081.9,464.1 1082.5,465.1 1083.0,466.0 1083.6,466.6 1084.2,466.9 1084.7,467.2 1085.3,467.8 1085.9,468.4 1086.4,468.9 1087.0,469.5 1087.5,470.2 1088.1,470.5 1088.7,470.4 1089.2,470.7 1089.8,471.3 1090.3,471.9 1090.9,472.2 1091.5,472.5 1092.0,472.9 1092.6,473.4 1093.1,473.6 1093.7,473.6 1094.3,473.5 1094.8,473.6 1095.4,474.2 1095.9,474.7 1096.5,474.8 1097.1,474.6 1097.6,474.0 1098.2,473.8 1098.8,474.2 1099.3,474.9 1099.9,475.4 1100.4,475.8 1101.0,476.0 1101.6,476.0 1102.1,475.7 1102.7,475.5 1103.2,475.8 1103.8,476.0 1104.4,475.8 1104.9,476.1 1105.5,476.5 1106.0,476.4 1106.6,476.0 1107.2,476.1 1107.7,476.3 1108.3,476.2 1108.8,475.8 1109.4,475.8 1110.0,475.9 1110.5,476.0 1111.1,475.7 1111.7,474.9 1112.2,474.6 1112.8,474.9 1113.3,475.3 1113.9,475.3 1114.5,475.1 1115.0,474.8 1115.6,474.3 1116.1,473.8 1116.7,473.5 1117.3,473.4 1117.8,473.4 1118.4,473.2 1118.9,472.5 1119.5,471.8 1120.1,471.5 1120.6,471.6 1121.2,471.5 1121.7,471.2 1122.3,470.8 1122.9,470.7 1123.4,470.7 1124.0,470.5 1124.6,470.2 1125.1,469.7 1125.7,468.9 1126.2,468.5 1126.8,468.6 1127.4,468.4 1127.9,467.7 1128.5,466.5 1129.0,465.6 1129.6,465.4 1130.2,465.8 1130.7,466.2 1131.3,466.1 1131.8,465.7 1132.4,465.3 1133.0,465.0 1133.5,464.5 1134.1,464.0 1134.6,463.2 1135.2,462.6 1135.8,462.6 1136.3,462.7 1136.9,462.3 1137.5,461.7 1138.0,461.3 1138.6,461.1 1139.1,461.0 1139.7,460.2 1140.3,459.1 1140.8,458.3 1141.4,458.0 1141.9,457.8 1142.5,458.0 1143.1,458.4 1143.6,458.2 1144.2,457.7 1144.7,457.7 1145.3,457.5 1145.9,457.0 1146.4,456.4 1147.0,455.6 1147.5,455.0 1148.1,454.7 1148.7,454.8 1149.2,454.8 1149.8,454.3 1150.3,453.8 1150.9,453.7 1151.5,453.8 1152.0,453.8 1152.6,453.5 1153.2,452.8 1153.7,452.3 1154.3,452.1 1154.8,452.0 1155.4,451.9 1156.0,452.1 1156.5,452.1 1157.1,451.6 1157.6,451.3 1158.2,450.9 1158.8,450.2 1159.3,449.5 1159.9,449.4 1160.4,449.5 1161.0,449.5 1161.6,449.2 1162.1,449.1 1162.7,449.0 1163.2,448.4 1163.8,447.7 1164.4,447.4 1164.9,447.4 1165.5,447.2 1166.1,446.6 1166.6,446.0 1167.2,445.5 1167.7,445.1 1168.3,445.1 1168.9,445.1 1169.4,444.9 1170.0,444.4 1170.5,444.0 1171.1,443.7 1171.7,443.6 1172.2,443.7 1172.8,443.6 1173.3,443.2 1173.9,442.7 1174.5,442.3 1175.0,441.9 1175.6,441.8 1176.1,441.9 1176.7,442.0 1177.3,441.9 1177.8,441.7 1178.4,441.6 1179.0,441.5 1179.5,441.3 1180.1,441.0 1180.6,440.5 1181.2,440.2 1181.8,440.0 1182.3,439.8 1182.9,439.9 1183.4,440.0 1184.0,439.5 1184.6,438.8 1185.1,438.2 1185.7,438.2 1186.2,438.4 1186.8,438.4 1187.4,438.1 1187.9,437.8 1188.5,437.7 1189.0,437.5 1189.6,437.6 1190.2,437.9 1190.7,437.9 1191.3,437.3 1191.9,436.6 1192.4,436.2 1193.0,436.1 1193.5,436.0 1194.1,435.8 1194.7,435.5 1195.2,435.3 1195.8,435.3 1196.3,435.5 1196.9,435.5 1197.5,434.8 1198.0,433.9 1198.6,433.4 1199.1,433.3 1199.7,433.6 1200.3,434.0 1200.8,434.0 1201.4,433.7 1201.9,433.3 1202.5,432.8 1203.1,432.3 1203.6,432.2 1204.2,432.6 1204.8,432.9 1205.3,432.9 1205.9,433.2 1206.4,433.1 1207.0,432.6 1207.6,432.1 1208.1,431.9 1208.7,431.9 1209.2,432.0 1209.8,432.1 1210.4,432.2 1210.9,432.1 1211.5,431.7 1212.0,431.3 1212.6,431.0 1213.2,430.6 1213.7,430.4 1214.3,430.4 1214.8,430.4 1215.4,430.4 1216.0,430.4 1216.5,429.9 1217.1,429.4 1217.7,429.1 1218.2,428.7 1218.8,428.5 1219.3,428.4 1219.9,428.7 1220.5,429.1 1221.0,429.6 1221.6,429.9 1222.1,430.0 1222.7,429.9 1223.3,429.5 1223.8,429.2 1224.4,429.1 1224.9,428.9 1225.5,428.9 1226.1,429.3 1226.6,429.4 1227.2,429.2 1227.7,429.0 1228.3,428.6 1228.9,428.1 1229.4,427.8 1230.0,427.8 1230.6,427.9 1231.1,428.2 1231.7,428.5 1232.2,428.3 1232.8,427.8 1233.4,427.5 1233.9,427.5 1234.5,427.7 1235.0,427.8 1235.6,427.5 1236.2,427.1 1236.7,427.2 1237.3,427.7 1237.8,427.9 1238.4,427.7 1239.0,427.4 1239.5,427.2 1240.1,427.3 1240.6,427.4 1241.2,427.6 1241.8,427.5 1242.3,427.1 1242.9,426.8 1243.4,426.4 1244.0,426.4 1244.6,426.7 1245.1,426.6 1245.7,426.2 1246.3,426.4 1246.8,427.1 1247.4,427.7 1247.9,427.7 1248.5,427.0 1249.1,426.5 1249.6,426.5 1250.2,426.9 1250.7,427.1 1251.3,427.0 1251.9,427.2 1252.4,427.6 1253.0,427.5 1253.5,426.9 1254.1,426.8 1254.7,427.0 1255.2,427.2 1255.8,427.3 1256.3,427.2 1256.9,426.7 1257.5,426.4 1258.0,426.5 1258.6,426.8 1259.2,427.1 1259.7,427.3 1260.3,427.1 1260.8,426.9 1261.4,426.7 1262.0,426.6 1262.5,426.7 1263.1,426.8 1263.6,426.4 1264.2,426.0 1264.8,425.7 1265.3,425.4 1265.9,425.4 1266.4,425.8 1267.0,425.9 1267.6,425.7 1268.1,425.6 1268.7,425.5 1269.2,425.7 1269.8,426.5 1270.4,427.2 1270.9,427.0 1271.5,426.4 1272.1,425.7 1272.6,425.6 1273.2,425.7 1273.7,426.0 1274.3,426.1 1274.9,426.0 1275.4,425.8 1276.0,425.5 1276.5,425.4 1277.1,425.4 1277.7,425.2 1278.2,425.2 1278.8,425.4 1279.3,425.7 1279.9,426.1 1280.5,426.4 1281.0,426.3 1281.6,426.2 1282.1,426.1 1282.7,425.8 1283.3,425.5 1283.8,425.4 1284.4,425.2 1285.0,425.2 1285.5,425.5 1286.1,425.8 1286.6,426.1 1287.2,425.8 1287.8,425.5 1288.3,425.9 1288.9,426.7 1289.4,427.0 1290.0,427.1" stroke="#000" stroke-width="3.0"/>
</g>
<g font-family="Liberation Sans, sans-serif" fill="#000">
<text transform="translate(15.0,32.2) scale(0.88,1)" font-size="37" font-weight="bold">a</text>
<text transform="translate(690.8,32.6) scale(0.95,1)" font-size="38" font-weight="bold">b</text>
<text transform="translate(695.8,326.1) scale(0.95,1)" font-size="31" font-weight="bold">c</text>
<text transform="translate(119.0,565.4) scale(0.97,1)" font-size="31" text-anchor="end">0</text>
<text transform="translate(119.0,469.8) scale(0.97,1)" font-size="31" text-anchor="end">200</text>
<text transform="translate(119.0,374.2) scale(0.97,1)" font-size="31" text-anchor="end">400</text>
<text transform="translate(119.0,278.5) scale(0.97,1)" font-size="31" text-anchor="end">600</text>
<text transform="translate(119.0,182.9) scale(0.97,1)" font-size="31" text-anchor="end">800</text>
<text transform="translate(119.0,87.3) scale(0.97,1)" font-size="31" text-anchor="end">1000</text>
<text x="169.8" y="585.3" font-size="31" text-anchor="middle" letter-spacing="-2.2">1.4</text>
<text x="831.6" y="585.3" font-size="31" text-anchor="middle" letter-spacing="-2.2">1.4</text>
<text x="261.4" y="585.3" font-size="31" text-anchor="middle" letter-spacing="-2.2">1.6</text>
<text x="923.3" y="585.3" font-size="31" text-anchor="middle" letter-spacing="-2.2">1.6</text>
<text x="353.0" y="585.3" font-size="31" text-anchor="middle" letter-spacing="-2.2">1.8</text>
<text x="1015.0" y="585.3" font-size="31" text-anchor="middle" letter-spacing="-2.2">1.8</text>
<text x="444.6" y="585.3" font-size="31" text-anchor="middle" letter-spacing="-2.2">2.0</text>
<text x="1106.7" y="585.3" font-size="31" text-anchor="middle" letter-spacing="-2.2">2.0</text>
<text x="536.2" y="585.3" font-size="31" text-anchor="middle" letter-spacing="-2.2">2.2</text>
<text x="1198.3" y="585.3" font-size="31" text-anchor="middle" letter-spacing="-2.2">2.2</text>
<text x="627.8" y="585.3" font-size="31" text-anchor="middle" letter-spacing="-2.2">2.4</text>
<text x="1290.0" y="585.3" font-size="31" text-anchor="middle" letter-spacing="-2.2">2.4</text>
<text x="316.1" y="547.3" font-size="27" text-anchor="middle" letter-spacing="-1.6">1.75</text>
<text x="393.0" y="547.3" font-size="27" text-anchor="middle" letter-spacing="-1.6">1.80</text>
<text x="469.3" y="547.3" font-size="27" text-anchor="middle" letter-spacing="-1.6">1.85</text>
<text transform="translate(780.6,92.1) scale(0.98,1)" font-size="31" text-anchor="end">30</text>
<text transform="translate(780.6,355.2) scale(0.98,1)" font-size="31" text-anchor="end">30</text>
<text transform="translate(780.6,170.9) scale(0.98,1)" font-size="31" text-anchor="end">0</text>
<text transform="translate(780.6,434.1) scale(0.98,1)" font-size="31" text-anchor="end">0</text>
<text transform="translate(780.6,249.7) scale(0.98,1)" font-size="31" text-anchor="end">-30</text>
<text transform="translate(780.6,513.0) scale(0.98,1)" font-size="31" text-anchor="end">-30</text>
<text transform="translate(31.8,294.2) rotate(-90)" font-size="30" text-anchor="middle"><tspan font-style="italic">A</tspan> (cm<tspan font-size="22" dy="-16.3">−1</tspan><tspan dy="16.3">)</tspan></text>
<text transform="translate(375.9,632.2) scale(0.92,1)" font-size="31" text-anchor="middle"><tspan font-style="italic">E</tspan><tspan font-size="23.5" dy="5.6">ph</tspan><tspan dy="-5.6"> (eV)</tspan></text>
<text transform="translate(1037.6,632.2) scale(0.92,1)" font-size="31" text-anchor="middle"><tspan font-style="italic">E</tspan><tspan font-size="23.5" dy="5.6">ph</tspan><tspan dy="-5.6"> (eV)</tspan></text>
<text transform="translate(720.2,163.4) rotate(-90)" font-size="30" text-anchor="middle">Δ<tspan font-style="italic">A</tspan> (cm<tspan font-size="22" dy="-16.3">−1</tspan><tspan dy="16.3">)</tspan></text>
<text transform="translate(720.2,427.2) rotate(-90)" font-size="30" text-anchor="middle">Δ<tspan font-style="italic">A</tspan> (cm<tspan font-size="22" dy="-16.3">−1</tspan><tspan dy="16.3">)</tspan></text>
<text transform="translate(163.4,75.2) scale(0.8,1)" font-size="22.0" font-weight="bold">E</text>
<text x="174.4" y="68.4" font-size="17.2" font-family="Liberation Serif, serif" font-style="italic">ω</text>
<path d="M193.7 57.9v22.4M199.5 57.9v22.4" stroke="#000" stroke-width="1.9"/>
<text x="208.2" y="75.2" font-size="22.7" font-style="italic">X</text>
<text transform="translate(1057.6,77.8) scale(0.8,1)" font-size="22.0" font-weight="bold">E</text>
<text x="1068.6" y="71.0" font-size="17.2" font-family="Liberation Serif, serif" font-style="italic">ω</text>
<path d="M1087.9 60.5v22.4M1093.7 60.5v22.4" stroke="#000" stroke-width="1.9"/>
<text x="1102.4" y="77.8" font-size="22.7" font-style="italic">X</text>
<text transform="translate(828.5,526.7) scale(0.8,1)" font-size="22.5" font-weight="bold">E</text>
<text x="839.5" y="519.9" font-size="17.6" font-family="Liberation Serif, serif" font-style="italic">ω</text>
<path d="M858.8 509.4v22.4M864.6 509.4v22.4" stroke="#000" stroke-width="1.9"/>
<text x="873.3" y="526.7" font-size="23.2" font-style="italic">X</text>
<text x="167.6" y="122.7" font-size="22">+<tspan font-style="italic">k</tspan><tspan font-style="italic" font-size="16.5" dy="5.9">Z</tspan></text>
<text x="1201.5" y="85.0" font-size="22.2">+<tspan font-style="italic">k</tspan><tspan font-style="italic" font-size="16.6" dy="6.0">Z</tspan></text>
<text x="1136.6" y="358.6" font-size="28" fill="#ff0000">−<tspan font-style="italic">k</tspan><tspan font-style="italic" font-size="21.0" dy="7.6">Z</tspan></text>
<text x="1139.6" y="499.7" font-size="28">+<tspan font-style="italic">k</tspan><tspan font-style="italic" font-size="21.0" dy="7.6">Z</tspan></text>
<g font-style="italic" font-size="22">
<text x="518.2" y="93.5">(</text><text x="524.4" y="93.5">E</text><text x="537.8" y="76.4" font-size="15">p</text><text x="536.4" y="99.4" font-size="15">a</text>
<text x="550.6" y="93.5">,</text><text x="562.4" y="93.5">B</text><text x="575.8" y="76.4" font-size="15">p</text><text x="575.6" y="99.4" font-size="15">a</text><text x="583.4" y="93.5">)</text>
</g>
<rect x="494.95" y="117.8" width="9.1" height="9.1" fill="#ffbfff" stroke="#ff0000" stroke-width="1.8"/>
<path d="M480.6 149.8H519" stroke="#ff0000" stroke-width="2.8" stroke-linecap="round"/>
<circle cx="498.6" cy="194.4" r="5.6" fill="#00ffff" stroke="#0000ff" stroke-width="1.7"/>
<path d="M479.8 220.8H518.6" stroke="#0000ff" stroke-width="2.8" stroke-linecap="round"/>
<text transform="translate(529.3,130.3) scale(0.965,1)" font-size="26">(+,+)</text>
<text transform="translate(529.3,156.9) scale(0.965,1)" font-size="26">(−,−)</text>
<text transform="translate(529.3,200.5) scale(0.965,1)" font-size="26">(−,+)</text>
<text transform="translate(529.3,227.0) scale(0.965,1)" font-size="26">(+,−)</text>
<g fill="#ff0000" font-size="23"><text x="327.9" y="325.5">(</text><text x="334.8" y="325.5" font-style="italic">χ</text><text x="347.8" y="330.8" font-style="italic" font-size="16.5">aa</text><text x="371.6" y="325.5" font-size="21">&gt;</text><text x="391.5" y="325.5">0)</text></g>
<g fill="#0000ff" font-size="23"><text x="378.8" y="461.8">(</text><text x="385.7" y="461.8" font-style="italic">χ</text><text x="398.7" y="467.1" font-style="italic" font-size="16.5">aa</text><text x="423.1" y="461.8" font-size="21">&lt;</text><text x="443.3" y="461.8">0)</text></g>
<text x="353.8" y="355.3" font-size="25" fill="#ff0000">Q1</text>
<text x="406.6" y="434.2" font-size="26.5" fill="#0000ff">Q2</text>
<text x="786" y="18.8" font-size="27">Δ<tspan font-style="italic">A</tspan> = <tspan font-style="italic">A</tspan>(+,+) − <tspan font-style="italic">A</tspan>(−,+)</text>
<path d="M1033.6 92.8L1049.7 79.6" stroke="#000" stroke-width="1.5"/>
<path d="M1037.5 232.4L1050.2 243.3" stroke="#0000ff" stroke-width="1.5"/>
<text x="1064.4" y="255.8" font-size="22.5" font-style="italic" fill="#0000ff">Y</text>
<path d="M1075.8 152.1L1091 141.2" stroke="#ff0000" stroke-width="1.5"/>
<text x="1096.6" y="143.6" font-size="22" fill="#ff00ff">[100]</text>
<path d="M1076.9 163L1092.1 176.4" stroke="#00a651" stroke-width="1.5"/>
<text x="1096.0" y="182.6" font-size="23.5" fill="#00a651">unpol.</text>
</g>
</svg>
</body></html>
